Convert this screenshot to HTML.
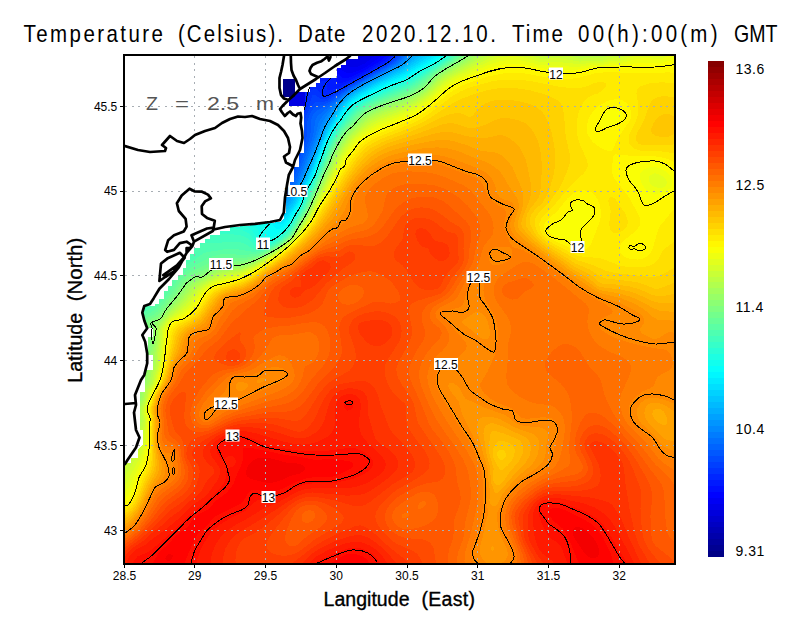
<!DOCTYPE html>
<html lang="en"><head><meta charset="utf-8"><title>Temperature (Celsius)</title>
<style>html,body{margin:0;padding:0;background:#fff}svg{display:block}text{font-family:"Liberation Sans",Arial,sans-serif;fill:#000}.g{stroke:#a8aeb4;stroke-width:1;stroke-dasharray:2 4.6;fill:none;shape-rendering:crispEdges}.c{stroke:#000;stroke-width:1;fill:none;stroke-linejoin:round;shape-rendering:crispEdges}.k{stroke:#000;stroke-width:2.7;fill:none;stroke-linejoin:round;stroke-linecap:round}.t{stroke:#000;stroke-width:1;fill:none;shape-rendering:crispEdges}.lb rect{fill:#fff}.lb text{font-size:12px}</style></head><body>
<svg width="800" height="618" viewBox="0 0 800 618">
<rect width="800" height="618" fill="#fff"/>
<defs><clipPath id="cp"><rect x="125" y="56" width="549" height="507"/></clipPath></defs>
<g clip-path="url(#cp)">
<g shape-rendering="crispEdges">
<path fill="#0000c3" d="M123 54H676V565H123z"/>
<path fill="#0000cf" d="M120 51l37.4 0l0.9 2.5l1.7 2.5l3.2 2.5l4.1 2.5l7.7 2.7l1.4 -0.2l-0.6 -2.5l-8.3 -3.9l-9.3 -6.1l521.8 0l0 517.5l-560 0l0 -515z"/>
<path fill="#0000dc" d="M120 51l33.6 0l1.4 3.3l4 4.2l13.5 10.2l15 7.7l17.5 6.9l2.5 -0.1l1.7 -2.2l3.3 -1.2l7.5 0l6.9 -1.3l0 -2.5l-4.4 -5l-0.6 -2.5l-0.3 -5l-5.3 -12.5l16.2 0.2l10 1.6l2.5 -0.6l1.2 -1.2l433.8 0l0 517.5l-560 0l0 -515z"/>
<path fill="#0000e8" d="M120 51l32.1 0l2.6 5l5.3 5.2l27.5 21.6l5 2.6l15 6.5l12.5 3.9l10 5.6l2.5 0.4l3.1 -0.8l1.7 -2.5l0.8 -5l1.9 -1.8l10 -3.6l0.9 -2.1l-1 -2.5l-3.8 -5l-1 -2.5l0.5 -2.5l3.3 -2.5l4.5 -2.5l9.1 -2.8l2 -2.2l0.5 -6l1.6 -1.5l8.1 -2.5l2.8 -2.5l56.2 0l3.4 2.5l10.2 5l5.2 1.2l2.5 0.1l5 -1.2l5 -2.5l3.1 -2.6l1.8 -2.5l310.1 0l0 517.5l-560 0l0 -515z"/>
<path fill="#0000f4" d="M120 51l31.1 0l1.4 3.3l3.4 4.2l11.6 9.7l7.5 7.3l7 5.5l5.5 5.7l5.9 4.3l6.1 7.5l8 5.5l8.9 9.5l6.1 5.1l5 5.2l7.5 5.1l10 9.8l10 4.9l2.6 -0.1l2.2 -2.5l0.1 -2.5l-3.1 -7.5l-6.5 -10l-0.7 -2.5l1.8 -2.5l3.1 -2.5l0.2 -5l1 -2.5l1.8 -2.5l5.4 -5l1.3 -2.5l2 -7.5l1.3 -2.3l10 -12.1l3.3 -5.6l3.5 -2.5l9.4 -5l8.8 -2.8l10 -1.7l12.5 0.5l7.5 2.1l15 7.2l5 0.9l5 -0.6l7.5 -3.3l12.4 -9.8l1.6 -2.5l301 0l0 517.5l-560 0l0 -515z"/>
<path fill="#0002ff" d="M120 51l30.2 0l2.3 4.9l2.5 2.9l5 4.7l6.5 5l6 6.2l7.5 6.4l5 5.5l7.5 6.5l5 6.1l9.1 6.8l9.4 10l6.5 5l4.7 5l6.8 5l8.5 8.6l2.5 2l12.5 7.5l5 1.5l2.5 -0.5l2.3 -1.6l4.7 -7.5l0.5 -2.5l-1.7 -7.5l1.9 -7.5l-1.3 -7.5l0.3 -2.5l2.7 -5l2.2 -10l1.1 -2.5l6.4 -7.5l3.4 -8.6l3.2 -3.9l4.3 -3.7l5.6 -3.8l4.4 -2.3l5 -1.7l10 -1.5l7.5 0.6l7.5 2.5l10 6.2l2.5 0.7l5 -0.4l5.2 -1.6l9.9 -5l14 -10l2.2 -2.5l1.3 -2.5l294.9 0l0 517.5l-560 0l0 -515z"/>
<path fill="#000eff" d="M120 51l29.3 0l2.3 5l3.4 3.8l10.3 8.7l7.2 7.6l7.5 6.3l5 5.8l6.2 5.3l6.3 7.4l7.5 5.5l10 10.6l5.5 4l4.6 5l7.4 5.9l10 10l15 10.5l5 2l5 0.9l2.5 -0.1l3.5 -1.7l5.4 -10l0.9 -2.5l0 -7.5l1.1 -10l1.1 -5l5.5 -13.8l5 -9l2.7 -9.7l1.3 -2.5l3.8 -5l4.7 -3.7l6.7 -3.8l5.8 -1.9l7.5 -0.7l5 0.7l5 2.4l7.5 6.4l2.5 0.4l2.5 -0.4l5.7 -1.9l10.4 -5l16.5 -10l6.2 -5l2 -2.5l1 -2.5l290.7 0l0 517.5l-560 0l0 -515z"/>
<path fill="#001aff" d="M120 51l28.4 0l2.3 5l4.3 4.8l10 8.6l7.5 7.9l7.2 6.2l5.3 6.1l5 4.3l6.1 7.1l8.9 7l9.8 10.5l5.2 3.9l22 21.1l10.5 8.4l5 3.3l7.5 2.7l7.5 1.7l2.5 0l2.7 -1.1l2.3 -3l2.5 -4.9l3.3 -9.6l0.9 -12.5l1.9 -7.5l3.1 -7.5l5.3 -7.5l1.2 -2.5l3.6 -15l3.1 -5l2.4 -2.5l5.2 -3.5l5 -2.3l5 -1.6l5 -0.4l2.5 0.6l3.5 2.2l4 6.8l2.5 0.5l7.5 -2.2l19.9 -10.1l16.6 -10l5.8 -5l1.8 -2.5l0.9 -2.5l287.5 0l0 517.5l-560 0l0 -515z"/>
<path fill="#0026ff" d="M120 51l27.6 0l2.1 5l4.3 5l11 9.6l7.5 7.9l5.8 5l16.3 17.5l9.1 7.5l9.2 10l6.2 5l20.4 20l10.5 9.3l7.5 5.4l2.5 1.1l17.5 4.4l2.5 -0.7l2.2 -2l4.7 -7.5l3.4 -10l1 -5l0.6 -10l2.9 -10l7.7 -12.4l3.5 -15.1l3.7 -5l5.3 -2.9l10 -2.6l1.5 0.5l0.1 7.5l0.9 1.3l2.5 0.7l6.6 -2l24.5 -12.5l22.1 -12.5l4.3 -2.9l5.1 -4.6l2.4 -5l285 0l0 517.5l-560 0l0 -515z"/>
<path fill="#0033ff" d="M120 51l26.2 0l2.3 5l4 4.7l11.5 10.3l7.2 7.5l6.3 5.6l15.6 16.9l8.5 7.5l10.9 12l35 32.8l7.5 5.9l5 2.7l20 6.1l2.5 -0.5l2.5 -2.6l4.1 -6.4l2.4 -5l3.7 -12.5l1.3 -12.5l1.6 -7.5l0.8 -2.5l6.8 -12.5l1.6 -5l1.5 -7.5l1.2 -2.1l2.5 -1.9l2.5 -0.5l2.5 0.8l5 5.4l2.5 0.8l2.5 -0.4l5 -2.1l53.3 -30l6.7 -5l2.4 -2.5l2.3 -5l282.8 0l0 517.5l-560 0l0 -515z"/>
<path fill="#003fff" d="M120 51l24.8 0l0.7 2.5l3.2 5l8.8 8.5l5.1 4l14.9 14.7l5 6l16.4 16.8l7.9 10l11.5 12.5l5.3 5l11.4 9l10 9l10 7.5l10 5.6l12.5 4.7l5 1.2l2.5 -1l2.5 -3l7.8 -15.5l3.8 -12.5l2.4 -20l8.1 -17.5l2.9 -8.5l2.5 -0.4l5 3.8l2.5 0.8l2.5 -0.1l5 -1.9l20 -12.4l38 -21.3l7 -5.4l3.3 -4.6l0.8 -2.5l280.9 0l0 517.5l-560 0l0 -515z"/>
<path fill="#004bff" d="M120 51l20.5 0l5.3 7.5l16.7 14.7l13.1 12.8l19.8 22.5l2.6 5l3.7 5l5.8 6.1l5.2 6.4l5.2 5l6.4 5l8.2 5.4l12.5 10.8l12.5 8l7.5 5.6l7.5 4.2l10 2.4l2.5 -0.3l2.2 -1.1l2.1 -2.5l8.3 -17.5l5.1 -15l1.1 -7.5l0.4 -10l1 -5l3.3 -7.5l4 -6.4l2.5 -2.3l2.5 -0.4l5 0.2l5 -1.3l20 -13.3l38.5 -21.5l10.5 -7.5l3.6 -5l0.9 -2.5l279 0l0 517.5l-560 0l0 -515z"/>
<path fill="#0058ff" d="M120 51l13.5 0l1.5 2.7l5 5.8l20 15.6l6.6 5.9l23.4 27.2l2.5 5.9l4.9 6.9l12.8 12.5l9.8 8.2l12.5 8.9l9.4 7.9l13.4 7.5l14.7 12.8l5 2l5 0.5l5 -0.2l2.5 -0.7l2.5 -1.7l2.5 -3.9l7.5 -17.4l5.1 -13.9l2.2 -10l0.2 -12.5l2.5 -7.3l3.4 -5.2l1.6 -1.5l2.5 -1.1l5 -0.9l5 -1.9l22.5 -16l42 -23.6l6.2 -5l3.7 -5l0.9 -2.5l277.2 0l0 517.5l-560 0l0 -515z"/>
<path fill="#0064ff" d="M120 51l7.8 0l7.6 10l19.5 17.5l9.5 10l8.9 7.5l13.3 17.5l4.1 7.5l4 5l42.1 32.5l14.1 7.5l3.5 2.5l15.6 14.3l5 2.2l5 0.2l5 -0.6l3.7 -1.1l3.5 -2.5l1.6 -2.5l8.7 -20.6l6.3 -16.9l1.7 -7.5l0.4 -12.5l1.5 -5l2.6 -4.1l2.5 -1.9l10 -4.5l14.9 -12l7.6 -5.3l43.9 -24.7l6 -5l3.8 -5l1 -2.5l275.3 0l0 517.5l-560 0l0 -515z"/>
<path fill="#0070ff" d="M406.7 51l273.3 0l0 517.5l-560 0l0 -514.3l5 3.2l12.5 10.7l18.4 17.9l8.4 7.5l6.6 5l1.8 2.5l2.3 5l6.7 7.5l1.6 2.5l1.2 5l1.2 2.5l2.4 2.5l14.4 11.6l22.1 15.9l24.6 15l20.8 17.7l2.5 1.5l5 1.1l5 -0.3l5 -1.5l5 -2.8l2.8 -3.2l16.1 -40l2 -7.5l1.8 -12.5l2.4 -5l29.8 -25l12.6 -7.7l27.5 -14.8l8.3 -5l5.9 -5l3.8 -5z"/>
<path fill="#007cff" d="M408.8 51l271.2 0l0 517.5l-560 0l0 -503.7l2.5 0.9l4.4 2.8l14.6 12.5l11 7.7l8.1 7.3l6.9 5.3l5.1 7.2l4.9 5.7l0.9 1.8l-0.8 2.5l-1.6 2.5l1.3 2.5l2.7 2.7l34.4 24.8l8.1 5l7.5 3.6l10.3 6.4l17.2 14l12.5 9.3l5 2.7l5 0.3l5 -1.2l5 -2.7l5 -3.7l2.5 -3.6l15.2 -37.6l2.5 -7.5l3.3 -12.5l2.4 -5l1.9 -2.5l14.2 -15l10.5 -9l13.8 -8.5l26.2 -13.9l10 -5.9l5.9 -5.2l4.1 -5z"/>
<path fill="#0089ff" d="M409.7 53.5l1.4 -2.5l268.9 0l0 517.5l-560 0l0 -482.9l2.5 1.4l5 4.2l5 2.4l2.5 -0.2l2.5 -2l2.5 0l2.5 1.2l12.5 9.4l7.7 4l4.8 3.9l1.8 3.6l-2.6 5l1.3 2.5l17 16.1l4.7 3.9l26 15l6.8 3.4l5 1.6l5 2.5l21.1 17.5l18.9 13.2l2.5 1.2l5 0.4l5 -1.4l2.5 -1.4l7.5 -6l3 -3.5l17 -41.2l6.5 -18.8l4.7 -7.5l10.1 -12.5l7.7 -7.5l6.5 -5l12.5 -7.5l32.9 -17.5l6.6 -4.7l5.1 -5.3zM120 73.5l3.7 2.5l3.8 5.1l-2.5 0.7l-5 -0.8l0 -5z"/>
<path fill="#0095ff" d="M412.1 53.5l1.6 -2.5l266.3 0l0 517.5l-560 0l0 -461.9l15 6.6l5 0.2l2.5 0.8l27.5 13.6l5 4.1l8.2 9.1l9.3 7.3l21.1 10.2l16.4 7l10.9 10.5l4.1 3.3l27.5 18.4l2.5 1.1l5 0.4l5 -1.4l2.5 -1.6l10 -9.7l2 -3l10.5 -24.6l13.8 -35.4l4.8 -7.5l9.3 -12.5l7.6 -7.5l6.6 -5l12.7 -7.5l33.3 -17.5l4.4 -3.1l7.5 -7.1z"/>
<path fill="#00a1ff" d="M414.9 53.5l1.7 -2.5l263.4 0l0 517.5l-560 0l0 -456.8l15 7.4l15 4.1l17.5 8.3l6.6 4.5l4.6 5l8.7 7.5l5.1 3l25.4 12l4.2 2.5l20.4 15.7l21.8 14.3l10.7 5.8l2.5 0.6l5 -0.4l5 -2.5l2.5 -2.2l10 -12.4l12.5 -28.6l11.9 -30.3l9.4 -15l5.6 -7.5l7.5 -7.5l6.9 -5l13 -7.5l33.2 -17.3l3.9 -2.7l8.6 -7.7z"/>
<path fill="#00aeff" d="M419.9 51l260.1 0l0 517.5l-560 0l0 -442.3l2 -0.2l0.5 -1l0.2 -1.5l-1.2 -2.5l1 -2.3l2.5 0.4l10 5.9l10 4.5l2.5 0.9l7.5 0.3l7.5 3.4l7.5 4.4l17.2 12.5l14.5 7.5l12.9 7.5l15.2 12.5l10.2 5.8l9.2 6.7l13.3 7.7l10 4.9l5 1.7l5 -0.2l5 -2.4l2.5 -2.3l10.6 -14.4l9.4 -20.8l15.9 -39.2l11.1 -17.5l3.8 -5l4.8 -5l6.9 -5.5l11.6 -7l35.9 -18.3l6.2 -4.2l11.8 -10z"/>
<path fill="#00baff" d="M421.5 53.5l1.9 -2.5l256.6 0l0 517.5l-560 0l0 -438.6l10 3.6l12.5 1.9l12.5 4.1l10 2.4l7.5 3.1l5 2.4l26.5 16.1l11 7.7l15 11.9l17.5 11.3l15 7.6l12.5 5.4l5 1l2.5 -0.2l5 -2.5l2.5 -2.3l11.7 -17.4l8.3 -17.9l16 -39.6l10.7 -17.5l5.6 -7.5l7.7 -7.5l7.5 -5l13.6 -7.5l31.4 -15.7l17.5 -13.1z"/>
<path fill="#00c6ff" d="M427 51l253 0l0 517.5l-560 0l0 -436.2l15 5.8l12.5 2.6l7.5 3.1l7.5 1.2l7.5 2.2l7.5 3.1l10 5.7l27.5 19.7l16.8 12.8l7.8 5l12.9 7.2l12.2 5.3l12.8 5l5 0.2l2.5 -0.9l2.5 -1.7l4.7 -5.1l10.3 -16.9l7.5 -15.8l17.2 -42.3l10.9 -17.5l5.6 -7.5l6.3 -6.1l5.5 -3.9l13.2 -7.5l33.8 -16.5l22.6 -16z"/>
<path fill="#00d2ff" d="M428.9 53.5l1.8 -2.5l249.3 0l0 517.5l-560 0l0 -434.1l17.5 9l10 1.9l5 2l10 1.2l9.2 2.5l5.8 2.3l8.1 5.2l24.4 18.8l25 17l17.5 9.7l25 9.8l5 0.5l2.5 -0.9l2.5 -1.9l5 -5.7l2.5 -3.8l10 -18.2l4.9 -10.3l17.6 -43.3l11.9 -19.2l5.8 -7.5l5.2 -5l7.2 -5l18.6 -10l26.5 -12.5l24.8 -16.4z"/>
<path fill="#00dfff" d="M434.3 51l245.7 0l0 517.5l-560 0l0 -431.9l3.8 1.9l18.7 12.6l5 2.1l7.5 1.5l15 6.5l2.5 -0.3l2.5 -1.6l2.5 0.3l2.5 1.1l16.7 12.8l14.4 10l36.4 21.2l7.5 3.5l15 5.3l7.5 3.3l2.5 0.6l2.5 -0.1l2.5 -1l2.5 -2l5 -6.1l3.1 -4.7l14.4 -27.8l13.7 -34.7l4.5 -10l12.5 -20l6 -7.5l5.8 -5.2l7.5 -4.9l19.2 -9.9l25.8 -12l22.5 -14.1l5.1 -3.9z"/>
<path fill="#00ebff" d="M436.1 53.5l1.6 -2.5l242.3 0l0 517.5l-560 0l0 -429.6l24.5 17.1l10.5 4.6l17.5 9.1l12.5 3.5l5 2.3l27.5 16.8l30 15.8l7.5 3.2l15 4.8l7.5 3.8l2.5 0.8l2.5 -0.3l2.5 -1.2l2.5 -2.2l5 -6.4l4.5 -7.1l15 -30l11.6 -30l5.6 -12.5l12.8 -20l5.5 -6.7l5 -4.5l9.9 -6.3l19.9 -10l22.7 -10.2l24.6 -14.8l5.4 -4.1z"/>
<path fill="#00f7ff" d="M439.3 53.5l1.5 -2.5l239.2 0l0 517.5l-560 0l0 -426.2l7.5 5.5l5.5 3.2l7 5.7l15 8.3l7 6l8 3.9l5.3 3.6l7.2 3.1l7.5 1l2.5 0.8l32.3 17.6l27.7 12.5l17.5 5.1l7.5 5.2l2.5 0.6l2.5 -0.7l5 -4l10 -14.7l15 -30.4l12 -31.1l4.5 -10l5.9 -10l8.5 -12.5l4.1 -5.1l5 -4.6l8.1 -5.3l19.8 -10l24.6 -10.8l25 -14.7l7.5 -5.3z"/>
<path fill="#05fffa" d="M442.3 53.5l1.4 -2.5l236.3 0l0 517.5l-560 0l0 -390l5 0l2.5 0.8l7.5 4l2.5 -1.3l0.4 -1l0.2 -2.5l-2.1 -7.5l0.6 -2.5l8.4 -1.5l5 0.8l2.5 1l6.1 4.7l8.9 3.7l7.5 5.1l7.5 4.2l12.5 4.7l27.5 13.4l30 12.5l16.2 3.9l3.5 2.5l2.8 4.8l2.5 0.8l2.5 -0.7l5 -3.5l2.5 -2.6l10.7 -16.3l5.7 -12.5l8.9 -17.5l12.2 -31.4l5 -11.1l5 -8.4l12.5 -17.4l5 -4.8l10 -6.4l22.5 -11l20 -8.5l15 -9.1l12.6 -6.9l7.4 -5.2z"/>
<path fill="#11ffee" d="M444.9 53.5l1.2 -2.5l233.9 0l0 517.5l-560 0l0 -351.7l15 -4.6l2.5 -2.6l2.5 -5l2.5 0.1l10 3.6l2.5 0l2.5 -1.3l1.3 -3.5l0.5 -7.5l5 -5l2.4 -5l0.8 -0.7l2.5 0l15 7l10 3.7l17.5 8.7l12.5 5.5l30 11.8l10 2l3.2 2l0.1 2.5l-1.7 5l0.5 2.5l2.9 0.4l5 -1.6l7.5 -4.9l5 -5.1l10 -15.4l16.3 -33.4l11.5 -30l4.7 -10.5l5.6 -9.5l9.4 -13.4l5 -5.8l5 -4.2l10 -5.9l22.5 -10.7l20 -8.4l12.5 -7.8l15 -8.4l7.6 -5.4z"/>
<path fill="#1dffe2" d="M447.2 53.5l1.1 -2.5l231.7 0l0 517.5l-560 0l0 -313.1l5 -1.6l2.6 -2.8l7.4 -3.2l2.4 -1.8l3.2 -7.5l1.9 -2.8l7.5 -3.5l5 -3.6l5.7 -5.1l7.7 -2.5l2.4 -2.5l4.2 -9.3l2.5 -3.2l2.5 -1.2l15 -2l2.5 0.1l5 1.2l17.5 8.1l25 9.6l8.4 4.2l3.5 2.5l1.7 2.5l1.7 7.5l2.2 2.5l2.5 0.4l2.5 -0.3l7.5 -3.3l7.5 -5.5l5 -5.2l5 -7.2l6.7 -11.4l8 -17.5l7.5 -15l11.6 -30l4.5 -10l6.7 -11l12.5 -16.4l6 -5.1l9 -5.3l22.5 -10.5l20 -8.3l13.5 -8.4l14 -7.9l10 -7.1z"/>
<path fill="#29ffd6" d="M449.2 53.5l1.2 -2.5l229.6 0l0 517.5l-560 0l0 -280l17.5 -13.2l6.9 -11.8l8.1 -9.2l5 -7.7l7.5 -4.9l9.6 -8.2l5.4 -3.7l2.5 -3.5l2.5 -5.4l2.5 -1.7l7.5 -2.1l5 -3l2.5 -0.7l5 0.7l15 4.2l22.5 7.7l4.3 2.5l3.2 2.7l2.5 3.8l2.8 6l2.8 2.5l1.9 0.5l5 -0.7l5.4 -2.3l4.6 -2.8l6 -4.7l4 -4.2l5 -7.3l7.5 -12.7l15.7 -33.3l11.6 -30l4.6 -10l5.6 -9.2l12.5 -16.3l5 -4.7l10 -6l20 -9.4l20 -7.9l5 -2.6l26.8 -16.4l7.5 -5l3.2 -2.9z"/>
<path fill="#36ffc9" d="M452.5 51l227.5 0l0 517.5l-560 0l0 -265.2l5 -2.8l8.4 -7l6.6 -3.6l5 -3.9l2.5 -2.6l12.8 -19.9l6.7 -7.5l5.6 -5l7.4 -8.9l12.5 -11.2l10 -5.2l5 -1.2l5 0l15 2.1l15 3.5l5 2.5l2.5 1.9l2.5 3l3.7 6l3.8 2.3l2.5 0.3l5 -1.1l7.5 -3.6l4.4 -2.9l8.3 -7.5l4.8 -6.9l7.5 -12.8l16.6 -35.3l10.9 -28.1l5 -10.9l5.2 -8.5l13.7 -17.5l6.1 -5.2l10 -5.7l17.5 -8l20 -7.8l5 -2.5l33 -20.8l4.5 -3.4l3.7 -4.1z"/>
<path fill="#42ffbd" d="M454.5 51l225.5 0l0 517.5l-560 0l0 -252.6l20 -16.1l10 -6.7l6.1 -7.1l11.4 -17.5l23 -25l4.5 -3.9l5 -2.9l5 -2l5 -0.8l17.5 -0.1l12.5 1.4l7.5 2.7l2.5 2.3l4.6 5.8l2.9 1.4l2.5 0.4l5 -0.5l3.6 -1.3l6.4 -3.2l6.3 -4.3l5.7 -5l3 -3.7l12.6 -21.3l14.9 -32.5l10.8 -27.5l6 -12.5l5.7 -8.8l12.5 -15.4l7.2 -5.8l7.8 -4.4l20 -8.9l17.5 -6.6l7.5 -3.9l32.6 -21.2l3.3 -2.5l4.8 -5z"/>
<path fill="#4effb1" d="M456.7 51l223.3 0l0 517.5l-560 0l0 -197.5l1 -7.5l2.4 -7.5l0.9 -5l-1.8 -12.5l0.4 -2.5l1.9 -5l1.7 -7.5l2.4 -5l6.1 -6.3l12.6 -8.7l4.9 -4l10 -11.7l7.2 -11.8l4 -5l8.8 -9.4l12.5 -12l7.5 -6l5 -1.1l7.5 0.9l12.5 -1.7l7.5 -0.1l5 0.7l5 1.5l7.5 4.7l2.5 0.8l5 0.3l5 -0.9l5 -2l5.9 -3.2l7.1 -5l4.5 -4l2.9 -3.5l13.2 -22.5l14.8 -32.5l11.6 -29l5 -10.1l5.5 -8.4l12 -14.6l6 -5.4l9 -5.3l17.5 -7.8l20 -7.6l7.5 -3.6l15.3 -10.7l19.4 -12.5l8.1 -7.5z"/>
<path fill="#5bffa4" d="M459.1 51l220.9 0l0 517.5l-560 0l0 -173.7l3 -3.8l3.3 -12.5l4.6 -25l-0.8 -12.5l0.4 -5l1.6 -10l2.2 -5l5.7 -6.4l10 -6.1l5 -4.3l12.5 -15.5l6.2 -10.2l6.3 -7.2l7.5 -6.8l15 -10.6l5 -2.1l7.5 -0.6l12.5 -2.5l7.5 0.1l17.5 2.9l7.5 -0.4l5 -1.3l7.5 -3.4l5.2 -3.1l6.8 -5l5.2 -5l2.8 -4l12.2 -21l13.6 -30l11.7 -29l5 -10.3l7 -10.7l10.6 -12.5l7.4 -6.8l7.5 -4.4l15 -6.7l25 -9.5l7.5 -4l15.1 -11.1l19.1 -12.5l8.3 -7.5z"/>
<path fill="#67ff98" d="M461.7 51l218.3 0l0 517.5l-560 0l0 -164.1l5 -6.9l2.2 -4l4 -15l5.2 -25l0.6 -25l1.5 -5l1.3 -2.5l1.9 -2.5l2.9 -2.5l7.9 -4.5l3.7 -3l13.9 -17.5l8.3 -12.5l6.6 -6.4l7.5 -5.4l15 -8.2l5 -2l7.5 -2l7.5 -0.6l12.5 0.9l7.5 -0.1l7.5 -0.8l7.5 -1.8l5 -2l7.5 -3.9l10.9 -7.7l4.1 -4.1l2.5 -3.3l12.5 -21.3l14.2 -31.3l12.4 -30l5.1 -10l5.8 -8.6l12.5 -14.2l5.1 -4.7l9.9 -5.8l15 -6.4l22.5 -8.3l7.5 -3.9l5 -3.3l12.2 -9.8l19.1 -12.5l8.7 -7.5z"/>
<path fill="#73ff8c" d="M464.6 51l215.4 0l0 517.5l-560 0l0 -152.3l2.5 -2.9l1.3 -2.3l6.6 -15l4.9 -17.5l2.6 -12.5l2.7 -10l1.4 -12.5l-0.4 -15l1.3 -5l1.4 -2.5l3.2 -3.1l7.5 -4.2l2.5 -2.1l15 -19.1l7.9 -11.5l7.1 -6.6l5 -3.3l10 -4.7l10 -5.7l7.5 -2.6l5 -0.5l10 0.9l7.5 -0.2l10 -1.8l7.5 -2.2l12.8 -5.8l7.2 -4.5l7.1 -5.5l2.9 -2.8l5 -7l11.7 -20.2l13.5 -30l12.3 -29.3l5 -9.7l7.5 -10.6l11.9 -12.9l5.8 -5l9.8 -5.3l12.5 -5.2l22.5 -8.2l7.6 -3.8l7.4 -5l11.9 -10l19.1 -12.5l9.3 -7.5z"/>
<path fill="#80ff80" d="M465.9 53.5l1.9 -2.5l212.2 0l0 517.5l-560 0l0 -144l3.8 -3.5l3.7 -7.5l6.4 -17.5l5.7 -20l4.4 -17.5l2.4 -12.5l0.5 -5l-1 -12.5l0.2 -2.5l1.4 -3.6l2.5 -2.5l6.7 -3.9l2.7 -2.5l15.5 -20l7.6 -10.7l5 -4.8l5 -3.4l10 -3.9l12.5 -7.6l5 -1.9l5 -0.4l7.5 0.8l7.5 -0.2l7.5 -1.6l10 -3.2l7.5 -3.1l9.4 -5l13.1 -9.4l3.2 -3.1l3.7 -5l12 -20l14.8 -32.5l11.3 -26.6l5.6 -10.9l6.9 -10l12.5 -13.3l5 -4.6l10 -5.7l10 -4.3l25 -8.9l10 -5.2l5 -3.3l12.5 -11.1l20.9 -13.6l9.1 -6.7z"/>
<path fill="#8cff73" d="M469.3 53.5l1.9 -2.5l208.8 0l0 517.5l-560 0l0 -136l2.5 -1.8l2.5 -3l4.9 -9.2l6.4 -20l2.3 -10l3.7 -10l2.2 -10l2.3 -7.5l3.8 -17.5l0 -17.5l1 -2.5l8.4 -7.3l25 -32.3l7.5 -6.1l10 -3.8l12.5 -7.6l5 -2.3l5 -0.4l10 0.5l5 -0.6l7.5 -1.9l7.5 -2.6l10 -4.5l7.5 -4.1l7.5 -4.7l7.5 -5.8l6.1 -6.5l11.4 -18.2l12.8 -26.8l17.2 -39.1l6.1 -10.9l6.4 -8.2l12.5 -12.8l5 -4.2l14.7 -7.3l27.8 -9.9l7.5 -3.7l7.5 -4.6l9.8 -9.3l6.5 -5l28.7 -18.5z"/>
<path fill="#98ff67" d="M474.9 51l205.1 0l0 517.5l-560 0l0 -128.8l2.5 -1.6l5 -5.9l3.6 -6.2l1.9 -5l2.5 -12.5l3.6 -10l2.1 -10l4.1 -10l1.5 -7.5l3.1 -10l1.1 -7.5l2.3 -10l1 -15l1.6 -5l21 -25l9.6 -12.5l6 -5.1l11.3 -4.9l11.2 -6.6l5 -2.4l5 -0.7l7.5 0.1l5 -0.4l7.5 -1.8l10 -3.7l10 -4.8l10 -5.8l7.5 -5.1l7.8 -6.3l7.5 -10l10.5 -17.5l26.7 -58.9l5 -9.2l7.5 -10.5l15 -14.9l5 -3.7l10 -5l30 -10.8l10 -5l7.5 -5.1l12.6 -11.9l7.4 -5l21 -12.5l7 -5z"/>
<path fill="#a4ff5b" d="M476.8 53.5l2.1 -2.5l201.1 0l0 517.5l-560 0l0 -121.5l2.5 -1.7l5 -5.8l5 -7.7l2.6 -5.8l1.4 -5l1.2 -12.5l3.7 -10l2.1 -10l3.9 -7.5l2 -10l2.8 -7.5l1 -10l2.5 -12.5l0.7 -12.5l2 -5l9.1 -11.5l12.4 -13.5l7.8 -10l2.4 -2.5l4.9 -3.7l7.5 -3.4l12.5 -7.1l5 -2.2l5 -1l7.5 -0.2l7.5 -1.2l5 -1.4l10 -4l12.5 -6.5l10 -6.1l13.7 -10.7l5.8 -7.5l10.9 -17.5l10.9 -22.5l17 -37.5l6.7 -12.1l7.5 -9.5l14.1 -13.4l5.9 -4l7.5 -3.7l30 -10.9l7.5 -3.5l10 -6.4l10 -9.8l5.1 -4.2l7.6 -5l22.1 -12.5l5.2 -3.6z"/>
<path fill="#b1ff4e" d="M481.1 53.5l2.1 -2.5l196.8 0l0 517.5l-560 0l0 -115.2l2.5 -1.3l5.6 -6l6.9 -11.3l2.5 -5.9l1.8 -7.8l-0.3 -7.5l0.6 -5l3.8 -10l1.3 -7.5l5.1 -10l1.3 -7.5l3.4 -10l0.7 -10l2.1 -12.5l0.4 -10l1.2 -5l1.5 -2.5l7.1 -9.1l13.2 -13.4l10.3 -12.5l6.4 -5l15.1 -8.2l7.5 -3.4l20 -3.2l7.5 -2.4l7.5 -3.3l12.5 -6.7l10 -6.3l14.6 -11.5l5.7 -7.5l11.1 -17.5l12.2 -25l16.1 -35l5.3 -9.3l7.5 -10l15 -14l5 -3.5l7.5 -3.8l30 -11l10 -4.9l8.8 -6l10.2 -10l6.2 -5l8 -5l19.3 -10.3l10 -6.4z"/>
<path fill="#bdff42" d="M486 53.5l2.5 -2.5l84.7 0l4.3 2.8l5 0.7l7.5 -0.8l10 0l5.8 -2.7l74.2 0l0 517.5l-560 0l0 -105.8l2.5 -2.1l10 -13.2l5 -9.9l1.4 -4l2.8 -12.5l-1 -7.5l0.4 -5l3.9 -9.9l1.5 -7.6l4.4 -7.5l0.9 -2.5l1.3 -7.5l2.7 -7.5l0.6 -2.5l0.4 -10l2 -12.5l0.2 -10l1 -3.8l2.1 -3.7l7.9 -9.7l13.7 -12.8l8.8 -10.6l7.5 -6.1l12.5 -7.1l5 -2.3l7.5 -2.1l15 -2.6l7.5 -2.6l7.5 -3.4l10 -5.5l12.5 -7.9l15 -11.8l6.2 -8l9.8 -15l12.6 -25l16.4 -35l5 -9l8 -11l14.5 -13.3l5 -3.6l7.5 -4l30 -11.1l10 -4.9l10 -7l11.5 -11.1l6.7 -5l8.5 -5l19.6 -10l11.2 -6.9z"/>
<path fill="#c9ff36" d="M492.2 53.5l3.3 -2.5l38.4 0l3.1 2.5l3 1.2l5 0l12.5 -1.8l7.5 1.5l12.7 4.1l4.8 0.1l7.5 -0.9l10 0.8l10 -3.1l10 -1.2l1.4 -0.7l2.3 -2.5l56.3 0l0 517.5l-560 0l0 -96.5l2.5 -1.9l2.5 -3.2l10 -15.3l5 -10.6l3.6 -20l-1.3 -7.5l0.3 -5l2.9 -7.5l2.7 -10l4.4 -7.5l2.3 -10l2.6 -7.5l0.8 -12.5l1.8 -12.5l0.2 -10l0.6 -2.5l2.8 -5l6.3 -7.6l11.9 -9.9l13 -15l7.6 -6.2l7.5 -4.5l7.5 -3.5l7.5 -2.2l15 -3l12.5 -4.9l12.5 -7l12.5 -8l15 -11.9l7.1 -8.8l9.8 -15l14.1 -27.5l16.5 -34.1l5 -8.4l7.5 -9.7l12.5 -11.1l7.5 -5.1l7.5 -3.8l25 -9.2l10 -4.5l12.5 -8.3l12.5 -11.8l7.5 -5.6l42.5 -22.2z"/>
<path fill="#d6ff29" d="M501.7 53.5l8.3 -1.9l7.5 0l12.5 3.5l10 3.9l17.5 -1l22.5 3.6l10 -0.9l10 0.6l10 -2.7l10 -0.5l5.2 -2.1l3.7 -2.5l2.5 -2.5l48.6 0l0 517.5l-560 0l0 -87.6l2.5 -1.5l2.5 -3l12.5 -20.7l5 -12.5l2.7 -22.2l-1.6 -7.5l0.2 -5l2.8 -7.5l2 -7.5l5.3 -10l4.9 -17.5l2.7 -25l0.2 -10l0.8 -2.9l2.8 -4.6l4.7 -5.8l15.1 -11.7l12.7 -15l7.2 -6l7.5 -4.3l5 -2.1l22.5 -5.6l12.5 -5.1l10 -5.7l12.5 -8l17.5 -13.5l6.1 -7.2l10.4 -15l14.6 -27.5l17.3 -35l4.1 -7l7.8 -10.5l9.7 -8.7l7.5 -5.6l7.5 -4.2l30 -11.6l10 -5l10.7 -7.4l14.3 -13.2l10.1 -6.8l34.9 -16.8l12.5 -5.2z"/>
<path fill="#e2ff1d" d="M641 53.5l6.5 -1l10 1.4l2.5 -0.4l2.6 -2.5l17.4 0l0 517.5l-560 0l0 -79.6l4.2 -2.9l3.3 -4.3l5.2 -10.7l7.3 -12.9l2.5 -7.1l2.6 -10l0.2 -10l1.1 -10l-1.7 -10l0.3 -2.5l4.8 -15l5.4 -10l4.9 -17.5l2.7 -25l0.3 -10l2.1 -5l4.8 -6.4l2.5 -2.2l7.5 -4.6l5.7 -4.3l4.9 -5l9.8 -12.5l7.1 -5.8l5 -2.9l5 -2l22.5 -5.9l12.5 -5.3l20 -12.3l17.8 -13.3l7.2 -7.5l10.9 -15l17.8 -32.5l16.5 -32.5l7.3 -11.1l5.3 -6.4l9.7 -8.1l10 -6.5l10 -4.5l25 -9.7l10 -5.5l10 -7.4l14.7 -13.3l7.8 -5.1l9.8 -4.9l27.7 -12.3l7.5 -2.8l7.5 -1.7l7.5 -0.5l7.5 0.5l7.5 1.5l12.5 3.9l17.5 -0.1l22.5 2.2l10 -1.1l10 0.3l10 -2.3l10 -0.4l5 -1.3l10 -4.2l5 -1.5z"/>
<path fill="#eeff11" d="M671.5 53.5l2.6 -2.5l5.9 0l0 517.5l-560 0l0 -72.7l2.5 -1.3l2.5 -2.3l4.8 -6.2l5.3 -12.5l5.4 -10l2.8 -7.5l3.2 -15l0.2 -10l0.9 -10l-1.5 -7.5l-0.1 -5l4.9 -15l5.3 -10l4.9 -17.5l3 -25l0.6 -10l2.1 -5l3.2 -4.4l2.5 -2.3l10.3 -5.8l6.2 -5l3.5 -3.8l10.4 -13.7l6.1 -5l8.5 -4.1l22.5 -6l12.5 -5.6l12.5 -7.5l12.5 -8.5l16.6 -13.3l6.3 -7.5l10.7 -15l15.2 -27.5l18.3 -35l7.9 -11.2l5.5 -6.3l9.5 -7.2l10 -5.9l32.5 -13.2l7.5 -4l12.5 -8.9l15 -13.4l10 -6.5l32.5 -14l12.5 -4.1l7.5 -1.2l10 0l7.5 1l12.5 3.4l5 0.8l35 1.6l12.5 -1.5l10 -0.2l10 -1.8l12.5 -0.8l12.5 -3.2l7.5 -1.2l5 0l12.5 1.2l3.2 -0.9l6.8 -4.1zM655 173.4l-2.5 0.4l-2.9 2.2l-0.8 2.5l0.3 2.5l1.1 2.5l2.5 2.5l4.8 1.8l5 -0.1l2.5 -1.1l2 -3.1l-0.3 -2.5l-1.4 -2.5l-2.8 -2.4l-2.5 -1.4l-4.5 -1.2z"/>
<path fill="#faff05" d="M675.3 58.5l4.7 -1l0 511l-560 0l0 -66.7l2.5 -0.7l2.5 -1.6l6 -8.5l1.5 -2.8l4.4 -12.2l5.6 -10.6l2.3 -6.9l3.1 -17.5l0 -10l0.8 -10l-1.8 -10l0.2 -2.5l4.9 -15l6.2 -12.5l3.4 -12.5l1.4 -7.5l3.4 -30l2.2 -5l4.2 -5l9.8 -5l7.4 -5.5l4.3 -4.5l8.8 -12.5l2.2 -2.5l4.7 -3.8l7.5 -3.7l22.5 -6.2l12.5 -5.7l12.5 -7.8l12.5 -8.6l10 -7.6l7.5 -6.6l6.5 -7.5l9.1 -12.5l18.6 -32.5l9 -17.5l8.6 -15l8.2 -11.2l5 -5.4l7.5 -5.5l10 -5.6l32.5 -13.4l7.5 -3.9l12.5 -8.9l17.5 -15.2l9.6 -5.9l30.4 -12.3l10 -3.1l10 -1.7l10 0l7.5 0.7l12.5 2.9l7.5 1.1l15 1.1l15 0.2l17.5 -2.4l10 -0.6l7.5 -1.2l12.5 -0.6l17.5 -2.4l20 0.4l5 -1.1l10 -3.4zM647.5 167.8l-2.5 1.1l-2.8 2.1l-1.7 2.5l-0.5 2.5l0.1 2.5l1.6 5l3.1 5l2.3 2.5l2.9 1.8l2.5 0.8l5 0l7.5 -1.8l5 -3.3l1.7 -2.5l0.8 -2.5l0 -2.5l-0.6 -2.5l-1.5 -2.5l-2.2 -2.5l-3.2 -2.6l-5 -2.6l-5 -1.2l-5 0.1z"/>
<path fill="#fff700" d="M666.7 66l13.3 -1.5l0 114l-6.1 -7.5l-6.3 -5l-5.1 -2.7l-7.5 -1.7l-12.5 0.8l-5.4 1.1l-4.6 1.8l-3.8 3.2l-1 2.5l0 2.5l0.5 2.5l2.3 5l12 19.3l2.5 2.5l2.5 1.1l2.5 0l5 -1.5l15 -7.2l5 -4.2l4.2 -5l0.8 -1.6l0 384.1l-560 0l0 -62.5l2.5 -0.5l4.1 -2l3.4 -4.1l4.3 -8.4l4.3 -12.5l7 -15l1.9 -9.3l1.5 -13.2l0.7 -20l-1.8 -10l0.2 -2.5l3.8 -12.5l6.3 -12.5l2.5 -7.5l3.1 -12.5l4 -30l2.2 -6.5l2.5 -3.5l2.5 -1.9l10 -4.7l7.5 -5.9l4.4 -5l8.5 -12.5l5.5 -5l6.6 -3.3l22.5 -6.4l12.5 -6l12.5 -7.8l15 -10.6l15 -12.3l9.5 -11.1l7.4 -10l8.1 -14.7l10.9 -17.8l9.1 -17.3l3.6 -5.2l3.9 -7.5l7.5 -10.3l5 -5.8l7.5 -5.7l10 -5.5l32.5 -13.4l7.5 -3.8l12.5 -8.8l17.5 -15l10 -6.3l12.8 -5.4l22.2 -7.7l12.5 -2.5l15 -0.2l5.1 0.4l22.4 4.1l17.5 1.3l12.5 -0.7l15 -3.1l15 -1.6l30 -1.2l20 -0.1l7.5 -0.9zM575 202.8l-2.5 2.8l-2.9 5.4l-4.8 5l-4.8 4.3l-8.7 5.7l-1.9 2.5l-0.1 2.5l1.3 2.5l3.7 2.5l10.7 3.4l10 4.2l2.5 -0.6l1.9 -2l3.1 -11.8l7.9 -10.7l2.1 -5l0 -2.5l-0.8 -2.5l-1.9 -2.5l-3.5 -2.5l-3.8 -1.8l-5 -0.1zM607.5 110.2l-3.8 3.3l-2.7 5l-1 5l0.2 2.5l2.3 1.7l5 -0.4l7.5 -2.6l5 -3.3l2.5 -2.9l0.8 -2.5l-0.4 -2.5l-2.2 -2.5l-3.2 -1.7l-2.5 -0.7l-5 0.5z"/>
<path fill="#ffeb00" d="M503.1 73.5l9.4 -0.5l12.5 0.5l27.5 4.8l12.5 1l12.5 -1.2l17.5 -4.8l10 -1l12.5 0.1l22.5 1.1l27.5 -1.1l12.5 0.6l0 91.9l-12.5 -5.9l-7.5 -2.1l-7.5 -0.7l-17.5 -0.1l-20 -1.8l-1.6 1.7l-1.5 12.5l0.4 5l1.9 5l14 17.5l11 20l1.4 5l-1.1 5l-1.7 2.5l-5.1 5l-9.4 7.5l-2.1 2.5l-1.3 2.5l-0.5 2.5l0.3 2.5l1.3 2.5l4 3.5l5 1.9l7.5 0.6l5 -0.8l5.3 -2.7l2.4 -2.5l2.6 -5l4.7 -16.9l2.6 -5.6l12.2 -15l5.2 -4.9l2.5 -1.4l0 363.8l-560 0l0 -59.2l3.2 -0.8l4.3 -2.2l2.5 -2.4l2 -2.9l3.7 -7.5l5.3 -15l4.9 -10l1.6 -4.4l2.3 -18.1l0.8 -22.5l-0.2 -5l-1.4 -7.5l0.1 -2.5l3.8 -12.5l6.3 -12.5l1.9 -5l3.8 -15l4.8 -30l1.7 -5l1.6 -2.5l2.7 -2.5l11.8 -6l7.5 -6.1l2.5 -2.9l10 -14.6l5 -4.5l7.3 -3.4l20.2 -5.8l12.5 -6l25 -16.9l17.5 -14.1l8.8 -9.7l9.4 -12.5l36.8 -62.5l9.8 -12.5l5.2 -4.7l5 -3.2l10 -5l27.5 -11.1l10 -4.7l12.5 -8.5l20 -16.4l10 -5.9l7.5 -3.2l20 -6.6l15 -3.1zM580 190.8l-5 1.8l-2.5 1.5l-5 4.4l-10 12.4l-11.2 10.1l-1.7 2.5l-1 5l1.5 5l1.9 2.5l3.1 2.5l22.4 10.8l5 1.5l2.5 0.1l2.5 -0.3l4.6 -2.1l2.6 -2.5l1.6 -2.5l7.7 -20l1.4 -5l0.7 -5l-1.1 -7.9l-2.5 -6.3l-2.5 -4.1l-2.5 -2.4l-2.5 -1.4l-2.5 -0.8l-5 -0.2zM607.5 100.9l-9 5.1l-6 6l-2.6 4l-2.1 5l-1.1 7.5l0.8 5l1 2.5l4 5.7l5 4.1l5 3.1l7.5 2.6l2.5 -1.1l4 -9.4l2.7 -5l10.4 -15l1.1 -2.5l0.6 -5l-1.3 -5.7l-2.5 -3.8l-2.5 -2.2l-2.5 -1.5l-5 -1.3l-7.5 1z"/>
<path fill="#ffdf00" d="M493.7 81l11.3 -1.5l15 0.2l12.5 1.6l27.5 5.6l15 1.4l10 -1.1l8 -3.7l7 -1.9l2.5 0.2l3.5 1.7l0.1 2.5l-1.7 2.5l-2.7 2.5l-4.1 2.5l-5.1 1.5l-5 2.7l-4.9 5.8l-2.6 5l-1.7 5l-1.2 7.5l-0.1 12.5l1 5l2 6l7.3 16.5l0.6 5l-0.8 2.5l-3.5 5l-13.6 12.9l-16.6 19.6l-10.2 10l-1.9 2.5l-1.9 5l0.2 5l2 5l4.1 5l6.8 4.6l20 10.5l5 2l5 1.1l17.5 1.3l20 7.5l7.5 1.5l7.5 0.4l12.5 -1l6.6 -2.9l4.7 -5l3.7 -7.5l2.4 -2.5l15.1 -11l0 331l-560 0l0 -56.3l2.5 -0.6l5 -2.5l2.5 -2.1l2.8 -3.5l4.7 -9.2l4.7 -13.3l6.7 -15l1.6 -12.5l1.1 -30l-1.5 -15l3.7 -12.5l6.4 -12.5l2.7 -7.5l3.7 -15l5.1 -27.5l2.2 -5l3.6 -3.5l10 -5.2l8 -6.3l4.4 -5l8.3 -12.5l5 -5l6.8 -3.4l20 -5.9l12.5 -6.1l27.5 -18.9l16 -13.2l7 -7.5l9.9 -12.5l9.6 -16.2l10.7 -16.3l9.3 -16.4l6 -8.6l4 -6.9l7.5 -9.4l5 -5l5.5 -3.7l9.5 -4.8l30 -11.9l10 -4.7l10 -6.5l22.5 -17.1l7.5 -4.3l7.4 -3.2l7.6 -2.5l17.5 -4.8zM649 83.5l13.5 -1.3l17.5 2l0 69.8l-20 -2.8l-20 -0.7l-6 -2l-3.1 -2.5l-1.6 -2.5l-0.7 -2.5l0.2 -5l2 -5l5.3 -10l2 -7.5l0.2 -7.5l-1.8 -12.5l0.2 -2.5l1.2 -2.5l2.1 -1.8l7.5 -2.9zM608.9 198.5l1.1 -1.2l2.5 -0.2l2.5 1.5l10 14.6l2.4 5.3l0.4 5l-0.8 2.5l-2 3l-5 3.4l-5 0.8l-2.5 -0.9l-2.5 -3.4l-0.8 -5.4l1.6 -12.5l-2.5 -10z"/>
<path fill="#ffd200" d="M497.2 88.5l10.3 -0.7l10 0.6l12.5 1.9l12 3.2l8 2.9l7.5 3.9l3.2 3.2l2.2 5l1.2 7.5l1.6 20l3.9 17.5l0.3 5l-0.4 5l-3.1 10l-7.1 15l-10.9 15l-10 10l-3.2 5l-0.5 5l1.2 5l2.4 5l4.2 5.2l7.5 5.8l27.5 15.7l15 4.8l14 6l8.5 2l35 3.9l5 -0.1l5 -1.3l4.3 -2l15.7 -9.5l0 304.5l-560 0l0 -53.5l2.5 -0.7l5 -2.7l3.6 -3.1l3.8 -5l3.7 -7.5l5.7 -15l5.9 -12.5l1.1 -5l0.4 -5l0.2 -25l0.6 -10l-0.2 -5l-1.3 -7.5l0.5 -5l3.2 -10l6.5 -12.5l2 -5l5.2 -20l4.9 -22.5l1.7 -4.8l2 -2.7l3.1 -2.5l9.9 -5.7l7.5 -6.1l4.7 -5.7l7.8 -11.7l5 -4.9l6.9 -3.4l20.6 -6.3l10 -5.2l27.5 -19.1l17.3 -14.4l9.5 -10l7.8 -10l10.4 -17.1l8.7 -12.9l10.4 -17.5l10.2 -15l8.2 -10l5 -4.5l5 -3.2l10 -4.9l27.5 -10.4l10.2 -4.5l8.9 -5l23.4 -15.1l10 -5l13.1 -4.9l11.9 -3.3l7.5 -1.4zM654.6 98.5l5.4 -1.9l5 -0.5l7.5 0.9l7.5 2.2l0 44.6l-12.5 1.3l-25 -0.2l-4.1 -1.4l-2.2 -2.5l-0.6 -2.5l1.3 -5l6.7 -12.5l6.4 -17.4l2.5 -3.5z"/>
<path fill="#ffc600" d="M491.3 101l8.7 -1.4l10 0.3l10 1.5l10 2.8l7.5 3.8l3.9 3l3.6 4.8l3.9 7.7l3 10l2.8 15l0.8 12.5l-1.5 12.5l-4.3 15l-3.1 7.5l-4.1 6.6l-7.5 7.3l-3 3.6l-1.3 2.5l-0.9 5l1 5l2.5 5l3.5 5l4.7 5l6 4.7l27.5 17.6l15 6.4l10 6.6l5 2.1l30 3.4l7.5 2l12.5 5l5 -0.4l15 -5.9l5 -1.2l0 287.2l-560 0l0 -50.7l2.5 -0.7l5 -2.9l5 -4.5l2.8 -3.7l4.7 -9l5 -12.8l5.3 -10.7l1.9 -5l1.1 -7.5l-0.5 -25l0.7 -12.5l-1.5 -12.5l0.5 -5l3.1 -10l8.7 -17.5l6.9 -25l3.8 -15.9l3 -6.6l2.4 -2.5l11.8 -7.5l6.2 -5l4.3 -5l8.4 -12.5l4.8 -5l6.6 -3.6l17.5 -5.1l10 -4.8l30 -20.6l17.5 -14.4l8.9 -9l10.1 -12.5l19.5 -30l9 -14.8l12.5 -17.6l7.5 -8.3l5 -4.1l12.5 -6.8l35 -12.9l25 -12.1l7.5 -2.8l7.5 -1.2l5 0.9l5 2.5l2.5 0.6l2.5 -0.9l3.9 -5l5 -5l3.9 -2.5l4.7 -2.1zM500 449.9l-2.5 2.3l-0.4 3.8l2.9 3.5l2.5 0.1l2.5 -2.1l0.8 -1.5l0.1 -2.5l-1.3 -2.5l-2.1 -1.2zM659.6 116l2.9 -1.5l2.5 -0.5l5 0.4l3.5 1.6l5.1 5l1.3 2.5l0.1 2.6l-0.9 2.4l-4.5 5l-4.1 2.5l-3 1l-5 0.3l-7.5 -1.8l-2.9 -2l-0.8 -2.5l0.2 -2.5l1.9 -5l4.1 -5.8z"/>
<path fill="#ffba00" d="M499.6 118.5l5.4 -0.5l7.5 0.8l7.5 2l5.6 2.7l4.4 3.8l2.8 3.7l4 7.5l1.8 5l1.8 7.5l1.7 15l-1.7 25l-1.1 5l-1.1 2.5l-8.2 10.5l-2.5 4.5l-2 7.5l0.6 5l1.4 2.5l5.7 7.5l4.9 5l9.4 7.5l15.5 10l12 8.7l13.1 6.3l4.4 3l5 4.5l4.1 2.5l15.9 1.1l12.5 1.9l10 2.9l12.5 5.6l5 1.1l7.5 -0.4l15 -3.2l0 276l-560 0l0 -47.8l2.5 -0.8l5 -3l5 -4.5l3.1 -3.9l4.3 -7.5l7.4 -17.5l6.3 -12.5l1.1 -5l0.2 -5l-1.2 -25l0.7 -15l-1.4 -10l0.4 -5l3.2 -10l8.8 -17.5l11.6 -40l2.2 -5l1.9 -2.5l2.8 -2.5l11.7 -7.5l4.4 -3.7l5 -6.2l8.6 -12.6l5.3 -5l6.1 -2.9l17.5 -5.2l10 -5.2l32.5 -23l16 -13.7l9.7 -10l8 -10l18.3 -27.5l10.5 -16.9l10 -13.3l7.5 -8.5l7.5 -6.2l7.5 -4.3l7.5 -3.3l32.5 -10.8l22.5 -8.3l5 -1.1l5 0l5 1l10 3.4l7.5 0.2l7.3 -1.9l15.2 -6.9zM500 440.8l-2.5 1l-2.5 2.7l-1.7 4l-0.7 5l1.1 5l3.8 7.3l2.5 3.7l2.5 0.1l5 -4l4 -4.6l2.6 -5l0.8 -5l-0.5 -2.5l-1.3 -2.5l-2.7 -2.5l-2.9 -1.4l-5 -1.3z"/>
<path fill="#ffae00" d="M435 133.5l7.5 -1.5l7.5 -0.3l17.5 4.6l12.5 1.7l7.5 -0.4l12.5 -2.7l5 1l5 2.7l6.4 4.9l3.6 4.1l5 10l1.8 5.9l4 20l0.4 10l-2 7.5l-7 17.5l-1 5l0.4 2.5l1.2 2.5l9 10l11.8 10l18.4 12.5l10.5 8.1l15 8.3l10 8.1l2.5 1.3l5 1l15 1.5l10 2.3l7.5 2.6l15 6.8l5 1.5l7.5 1l15 -0.6l0 265.6l-560 0l0 -44.9l5 -2.1l5 -3.8l7.5 -9l4.2 -7.7l6.5 -15l5.7 -10l2 -5l1 -7.5l-2.2 -25l0.8 -15l-1.5 -12.5l0.4 -5l3.2 -10l9 -17.5l3.4 -12.2l5.8 -15.3l3.6 -12.5l2.6 -5l5.4 -5l10.1 -6.3l4.2 -3.7l14.5 -20l3.8 -3.6l5 -2.6l17.5 -5.2l10 -5.2l11.2 -8.4l22 -15l19.3 -16.4l8.2 -8.6l8.1 -10l15.4 -22.5l10.8 -17.5l5 -7l10 -12l7.5 -7.1l7.5 -5.1l10 -4.8l12.5 -4.2l32.5 -9.1zM492.5 431.3l-1.9 2.2l-0.7 2.5l-0.7 10l0.2 7.5l4.2 15l-0.7 10l0.4 2.5l1.7 3.1l2.5 1.2l2.5 -0.7l2.5 -2.2l7.5 -10.7l9.1 -10.7l3.5 -7.5l0.7 -5l-1.2 -5l-1.8 -2.5l-2.8 -1.9l-15 -6l-7.5 -2z"/>
<path fill="#ffa100" d="M431 141l11.5 -1.3l10 1.1l15 4.6l12.5 5.3l15 1.8l5 2l2.5 1.5l5.5 5l4.5 6.3l9.2 21.2l1.7 7.5l-0.1 7.5l-1.8 7.5l-3.5 10l-0.3 5l2.5 5l10.2 10l12.1 9.6l17.5 12.2l10.7 8.2l14.3 8.8l12.5 9l5 1.8l15 2.4l12.5 3.5l7.5 3.1l17.5 9.3l5 1.9l20 1.6l0 256.1l-560 0l0 -41.9l5 -2.2l5 -3.7l7.5 -8.9l4.7 -8.3l7.8 -17l6.7 -10.5l1.8 -5l0.5 -7.5l-2.4 -15l-0.8 -10l0.8 -15l-1.5 -12.5l0.4 -5l3.1 -10l9.2 -17.5l3.7 -12.5l6.7 -15l3.8 -12.5l2.9 -5l5.1 -4.3l9.6 -5.7l3 -2.5l16.3 -22.5l2.6 -2.5l4.8 -2.5l16.2 -4.6l10 -5.2l13.4 -10.2l22.7 -15l17.9 -15l11.7 -12.5l10 -12.5l8.7 -12.5l10.6 -17.8l5 -7.3l10 -11.7l8.9 -8.2l8.6 -5.6l10 -4.4l20 -5.6l20 -4.2zM492.5 423.4l-2.5 0.1l-2.5 1l-1.9 1.5l-1.5 2.5l-0.6 5l2.8 20l4.1 15l0.2 12.5l4.4 12.1l2.5 -0.3l5 -4.6l12.4 -14.7l10 -10l4.6 -7.5l1.6 -7.5l-0.8 -5l-1.2 -2.5l-4.1 -4l-25 -11.7l-6.2 -1.8zM657.5 408.5l-2.5 0.6l-2.1 1.9l-0.6 2.5l0.5 2.5l2.2 3.8l2.5 2.2l5 2.6l2.5 0.5l2.1 -1.6l0.4 -1.8l-1.1 -5.7l-3.2 -5l-3.2 -2.1l-2.3 -0.4zM495 494.9l0 3.7l0.1 -2.6z"/>
<path fill="#ff9500" d="M422.1 148.5l15.4 -1.2l12.5 1.5l10 3l15 6.3l10 3.5l8.4 4.4l5.9 5l3.2 3.9l6.3 11.1l6.2 8.6l2.5 4.7l1.2 4.2l0.1 5l-4.2 12.5l-0.5 5l0.9 3l2.5 4.2l8.3 7.8l44.2 32.8l27.5 18.1l5 1.8l19 4.8l12.5 5l9 5l9.5 8.1l5 3l10 0.2l12.5 2.5l0 92.6l-5 -2.8l-10 -6.7l-5 -2l-5 -0.7l-5 0.6l-2.5 1.5l-2.6 3.7l-0.6 5l1.4 5l3.4 5l7.8 7.5l5.6 6.2l2.5 1.9l2.5 1.1l5 0.6l7.5 -1.4l0 129.1l-560 0l0 -38.9l5 -2.2l5 -3.7l6.7 -7.7l6.2 -10l8.3 -17.5l7.4 -10l2.4 -5l0.7 -5l-0.2 -5l-3.5 -15l-1.1 -10l0.9 -15l-1.6 -12.5l0.4 -5l3.1 -10l8.4 -15l4.9 -15l7.9 -15l2.9 -10l2.2 -5l2.1 -2.5l3.1 -2.5l9.3 -5l4.5 -3.5l14.8 -21.5l2.7 -3.3l2.5 -1.8l15 -4.2l10 -4.4l7.5 -5l10 -8.2l22.5 -14.2l17.5 -14.2l9.6 -9.7l15.5 -17.5l7.2 -10l7.8 -15l4.9 -7.8l7.5 -9.1l10 -9.6l10 -6.8l10 -4.5l10 -2.8l20 -4.1zM482.5 417.4l-2.5 1.1l-1.9 2.5l-1.1 5l0.3 5l5.8 22.5l4.6 15l0.6 12.5l1.7 10l-0.6 10l0.8 2.5l2.3 2.4l2.5 0.1l2.5 -1.9l5.5 -10.6l9.5 -11.5l5 -5.2l12.9 -10.8l4.3 -5l3.3 -7.5l0.8 -5l-0.1 -7.5l-1.2 -3.4l-2.5 -2.4l-3.3 -1.7l-16.7 -5.9l-15 -8.5l-7.5 -2l-7.5 -0.2zM492.5 546.1l-1.8 2.4l1.7 2.5l2.1 -2.5z"/>
<path fill="#ff8900" d="M412.3 156l7.7 -1l10 -0.5l12.5 1.3l9.4 2.7l25.6 9.6l7.5 3.7l4.8 4.2l1.9 2.5l2.5 5l3.3 10l2.5 3.9l2.5 1.6l7.5 2.2l2.5 1.9l1.7 2.9l0.5 2.5l-0.3 2.5l-3.8 10l-0.5 5l0.4 2.5l2.2 5l4.8 5.4l52.5 38.6l22.5 15.1l7.5 3.7l20.8 7.2l10.3 5l8.7 5l2.7 2.7l1.3 2.3l0.4 2.5l-0.6 2.5l-3.1 5l-0.3 2.5l1.9 2.5l4.3 2.5l5.8 2.5l2.8 0.4l2.5 -0.4l2.5 -1.1l7.5 -4.9l5 -0.2l7.5 1.9l0 70.5l-5 -0.7l-12.5 -4.8l-7.5 -1.4l-5 0l-5 1.7l-4.7 4l-2.9 5l-0.5 5l1.3 5l3.2 5l11.1 10.1l10 11.3l2.5 2.1l5 2.7l5 1.3l5 0.5l0 117l-560 0l0 -36l2.5 -0.8l5 -3l7.5 -6.9l8.6 -13.3l10 -20l7.3 -7.5l3.4 -5l1.1 -5l-0.6 -7.5l-1.4 -5l-3.4 -8.6l-1.8 -11.4l-0.1 -5l1 -10l-1.6 -11l0.3 -6.5l3.2 -10l9.7 -17.5l4.3 -13l9.2 -14.5l2.6 -10l2.5 -5l2.6 -2.5l3.1 -1.9l7.5 -3.2l3.8 -2.4l2 -2.5l4.2 -7.6l12.5 -17.4l5 -2.1l12.5 -3.5l10 -5l5 -3.5l10 -8.6l24.6 -14.8l18.8 -15l14.1 -14.1l9.3 -8.4l6.7 -7.5l3.4 -5l5.6 -14.6l4.6 -7.9l6.1 -7.5l9.3 -8.7l9.1 -6.3l8.4 -4.2l10 -3.1l12.5 -2.3zM450 382.6l-1 0.9l-0.7 2.5l0.7 2.5l1.4 2.5l8.1 10l3.5 12.5l13 27.2l10 28.7l1.9 21.6l-0.6 10l2.2 12.5l-3.4 10l-2.1 12.5l-2.9 10l-0.6 5l0.3 2.5l2.7 5.4l5 4.5l5 1.9l5 -0.4l5 -2.5l2.5 -2.1l2.5 -3.9l0.4 -2.9l-1.1 -5l-6 -12.5l-1.8 -5l-2.4 -15l0.2 -2.5l8.2 -16.8l6.2 -8.2l8.8 -8.7l15.9 -11.3l5.4 -5l1.9 -2.5l1.3 -2.5l1.2 -5l0.5 -7.5l1.5 -7.5l0 -5l-1.1 -2.5l-3.1 -2.5l-3.5 -1.1l-15 -1.4l-5 -1.2l-5 -2.4l-10 -7.6l-20 -6.9l-17.5 -8.3l-2 -1.1l-2.3 -2.5l-3.2 -7.5l-2.5 -2.6l-5 -3.2zM475 312.4l-13.2 8.6l0.8 2.5l7.4 5.4l10 8.5l2.5 1.5l2.5 0.5l2.5 -0.5l2.2 -2.9l0.4 -2.5l-0.6 -5l-2.1 -7.5l-2.4 -4.6l-2.5 -2.6l-2.5 -1.5l-2.5 -0.5zM237.5 382.8l-0.8 0.7l-0.9 2.5l0.5 2.5l1.2 1.7l2 0.8l3 -0.3l2.5 -1.3l3.3 -3.4l-1 -2.5l-4.8 -1.5l-2.5 -0.1zM260 378.2l-3.3 2.8l0.8 1.5l2.5 0.5l4.2 -2l1.2 -2.5l-2.9 -1z"/>
<path fill="#ff7c00" d="M404.2 163.5l15.8 -1.4l7.5 0.2l8.5 1.2l9 2.7l27.5 10.3l5 2.4l2.7 2.1l2.3 2.8l4.1 9.7l3.1 5l7.8 6.6l6.2 3.4l2.2 2.5l0.3 2.5l-2.1 10l0.3 5l5.6 14.6l2.5 3.9l10 2.9l11.2 6.1l21.4 15l24.9 18.7l12.5 7.7l11.8 6.1l6.9 5l1.6 2.5l-0.9 2.5l-9.4 4.7l-2.9 2.8l-0.8 2.5l0.2 2.5l1.3 2.5l2.2 2.3l7.5 4.9l7.5 3.2l17.5 5.3l17.5 3.6l12.5 1.9l3 1.3l2.3 2.5l1.8 5l0.6 5l-0.3 2.5l-1.3 2.5l-2.6 2.5l-8.5 4.1l-2.5 2.3l-1.9 3.6l-1.7 5l-4.2 2.5l-7.2 3l-7.5 5.8l-4.8 6.2l-1 2.5l-0.5 5l2.2 7.5l2.9 5l4.8 5l11.6 10l12 15l5.3 3.8l7.5 3.2l5 1.5l0 106.5l-170.9 0l3.7 -7.5l0.7 -5l-1 -5.6l-8.7 -19.4l-1.3 -4.4l-0.9 -10.6l1.6 -7.5l4.5 -10l7.3 -9l10 -8.5l19.6 -12.5l5.2 -5l3.4 -7.5l1.1 -10l3.2 -10.2l0.8 -7.3l-0.8 -3.4l-2.3 -4.1l-2.7 -2.1l-2.5 -1l-7.5 -0.7l-15 1.6l-5 -0.7l-2.5 -1.2l-7.5 -8.3l-13.6 -5.1l-8.9 -5l-5.6 -5l-3.5 -5l-0.7 -2.5l0.3 -2.5l7 -11.7l7.5 -16.9l1 -8.9l1.8 -7.5l0.4 -5l-0.8 -7.5l-1.9 -7.5l-2.3 -5l-7.2 -12.5l-1.8 -5l-0.7 -5l0.7 -12.5l-1.3 -2.5l-2.9 -0.3l-5 2.9l-2.5 2.3l-2.5 3.4l-3.8 9.2l-2.7 10l-1 1.8l-2.5 1.8l-2.5 0.8l-12 3.1l-3.2 2.5l0.2 2.5l22.1 25l1.6 2.5l0.5 2.5l-0.5 2.5l-1.6 2.5l-5 5l-4.6 2.7l-10 3.4l-4.8 3.9l-3 5l-1.7 7.5l1.1 7.5l3 7.5l16.3 27.5l14.1 21.6l7.5 16.1l4.4 12.3l1.6 20l-1.1 20l-3.9 17.5l-6.2 20l-0.9 5l0.5 5l4.3 10l-356.2 0l0 -33.1l2.5 -0.8l5 -3l7.5 -6.4l8.1 -11.7l11.9 -22.6l2.5 -2.9l8.9 -7l6.3 -7.5l0.7 -2.5l-0.9 -15l-2.3 -2.5l-2.7 -0.1l-2.5 -1l-2.5 -3.1l-2.5 -8.1l-0.4 -7.7l1 -10l-1.6 -10l0.3 -7.5l3 -10l9.1 -15l4.4 -12.5l1.7 -3.2l9.2 -11.8l2 -5l1.7 -7.5l1.3 -2.5l3.3 -3.2l10 -3.8l4.4 -3l1.9 -2.5l3.7 -8l12.5 -17.6l4.4 -1.9l10.6 -3.1l10 -5l7.5 -5.5l6.8 -6.4l3.2 -2.2l22.5 -12.8l7.5 -6.4l11.8 -8.6l15.7 -14l10 -6.4l10 -7.7l3.8 -4.4l1 -2.5l1.4 -12.5l3 -7.5l5.4 -7.5l7.9 -7.5l7.5 -5.3l8.1 -4.7l6.9 -2.7l10 -2.1zM492.5 248.4l-2.6 2.6l-1.4 5l0.2 2.5l1.3 4.4l2.5 2.2l5 0.1l5 -1.5l5 -2.6l3 -2.6l1.5 -2.5l0.5 -2.5l-0.2 -2.5l-1.1 -2.5l-1.2 -1l-12.5 -0.5l-2.5 0.4zM267.5 368.2l-15 6.6l-15 2l-5 1.8l-2.5 2.4l-1.6 2.5l-3.4 7.4l-2.5 3.5l-15 13.4l-2.5 3.2l-0.8 2.5l0.2 2.5l0.6 0.8l2.5 1.1l2.5 -0.9l7.5 -6.9l7.5 -4.6l19 -7l34 -15l7 -4.4l2.1 -3.1l0.1 -2.5l-1.2 -2.5l-3.5 -2.7l-5 -1.2l-7.5 0.5z"/>
<path fill="#ff7000" d="M392.3 173.5l7.7 -1.6l7.5 -0.5l12.5 0.3l10 1.1l7.5 1.8l7.5 2.5l17.5 7.8l5 2.8l3.8 3.3l16 20l3.5 5l2.4 7.5l0.4 5l-0.5 5l-1.2 2.5l-6.9 8.5l-2.1 4l-4.3 15l-2.9 5l-10 12.5l-7.7 15l-4.8 5l-13.2 6.5l-3.6 3.5l-0.9 2.5l0.2 2.5l1.1 2.5l7.8 7.5l1.9 2.5l2.2 5l0.5 5l-0.4 2.5l-2.3 5l-4 4.6l-7.5 6.9l-4.2 6l-2.1 5l-1.3 7.5l0.2 5l1.1 5l2.7 7.5l3.6 7.5l11.6 20l20.9 30.6l7.4 14.4l2.4 7.5l1.3 12.5l-0.6 12.5l-1.5 10l-4 17.4l-3.1 12.6l-4.7 15l-0.2 7.5l1.8 7.5l-346.3 0l0 -30.3l2.5 -0.9l5 -3l5 -3.8l4.7 -4.5l7 -10l10.8 -19.8l2.5 -3.6l2.5 -2.4l7.5 -5.1l5 -4.2l2.5 -2.5l2.8 -4.9l0.3 -5l-1.7 -15l-1.4 -4.4l-2.5 -1.8l-5 -0.8l-2.5 -1.1l-2.6 -4.4l-0.9 -7.5l0.8 -10l-1.6 -10l-0.2 -5l2.5 -10l2 -4.2l8.5 -13.3l4 -10.7l2.5 -3.9l10 -11.4l2.1 -4l2.6 -7.5l1.5 -2.5l3.1 -2.5l8.2 -3.4l5 -3.8l2.1 -2.8l5.2 -10l10.6 -15l4.6 -2.4l10 -3.6l7.5 -4.2l7.5 -5.6l10 -9l22.5 -12.5l10 -8.3l27.5 -20l20 -10.3l7.5 -2.8l5 -1.2l2.5 -1.5l2.4 -3.6l0.4 -2.5l-0.5 -5l-2.4 -10l0.1 -3.4l1.5 -4.1l3.6 -5l5.3 -5l7 -5l7.6 -4.1zM277.5 355.6l-10 4.4l-13.5 8.5l-4 1.9l-5 1.6l-12.5 2.6l-3.2 1.4l-3.4 2.5l-15.9 16.7l-7.5 9.5l-3 6.3l-0.3 5l0.8 2.5l2.1 2.5l2.9 1.1l5 -0.7l12.5 -8.1l7.5 -3.8l49.4 -18.5l9 -5l4.1 -4.4l1.6 -3.1l0.6 -2.5l-0.4 -5l-3.1 -7.5l-3.5 -5l-2.7 -2.1l-5 -1.1zM519.6 263.5l2.9 -1.4l5 -0.4l5 1.6l4.9 2.7l17.4 12.5l30.8 25l2.1 2.5l1.1 2.5l0.2 2.5l-1.6 10l0.3 5l2.3 7.5l2.8 5l4.7 5.5l5 3.8l7.5 4.2l12.5 5.1l5.1 3.9l2 2.5l1.3 2.5l0.1 5l-2.7 7.5l-7 15l-1 5l-0.2 5l0.5 5l2.3 7.5l2.6 5l3.5 5l16 15.5l13.5 17l6.5 5.6l15 9.6l0 94.8l-164.4 0l1.6 -7.5l-0.1 -5l-2 -7.5l-6.5 -15l-2.6 -7.5l-0.9 -10l1.5 -7.5l2.1 -5l3.1 -5l8.2 -8.6l10 -7.3l19.7 -11.6l5.7 -5l3 -5l2.7 -7.5l3.1 -17.5l0.7 -7.5l-0.7 -7.5l-1.7 -4.7l-2.5 -4.1l-5 -4.7l-5 -2.3l-15 -1.8l-7.6 -2.4l-8.8 -5l-6.1 -4.6l-2.9 -2.9l-2.7 -5l-0.7 -7.5l1.8 -17.5l-0.5 -12.5l3.2 -12.5l0.2 -7.5l-1.5 -5l-2.5 -5l-9.4 -13.3l-2.2 -4.2l-1.5 -5l-0.1 -5l1.2 -5l3.1 -5l4.5 -3.9l15 -9.8z"/>
<path fill="#ff6400" d="M398.1 186l4.4 -1.3l5 -0.6l17.5 0.1l10 1.3l10 3.5l11.9 7l10.6 9.4l10.1 13.1l2.7 7.5l0.3 5l-0.9 5l-3.8 12.5l-2.6 12.5l-2.1 5l-8.9 12.5l-9.8 15.9l-5 4.4l-12.8 7.2l-2.5 2.5l-1.6 2.5l-0.9 5l1.6 5l2.1 2.5l6.5 5l1.5 2.5l0.3 2.5l-2 5l-11.4 12.5l-3.4 5l-3.9 7.5l-1.7 7.5l0.1 7.5l1.7 7.5l7.3 17.5l8.8 17.5l8.4 12.5l7.5 10l9.6 15l4.4 10l1.9 7.5l1.8 12.5l-0.1 10l-1.4 7.5l-3.9 15l-2.1 17.5l-5.6 15l-0.7 7.5l1.1 7.5l-338.1 0l0 -27.5l2.5 -0.9l5 -3.1l10.3 -8.5l9.2 -12.5l10.5 -17.7l4.5 -4.8l13 -9.6l2.7 -2.9l2.9 -5l0.7 -2.5l0.1 -5l-3.3 -20l-3.1 -4.1l-7.3 -3.4l-2.7 -3.5l-0.8 -4l0.1 -12.5l-1.8 -10l0.4 -5l2.2 -7.5l2.4 -4.5l7.4 -10.5l6 -12.5l11.6 -12.5l7.8 -12.5l2.6 -2.5l9.6 -6.1l4.1 -3.9l15.9 -23l4.8 -4.5l15.2 -8.4l18.6 -16.6l21.4 -12.2l12.5 -10l17.5 -11.9l25 -11.9l7.5 -2.4l10 -2.2l4.2 -1.9l3.3 -2.5l4.1 -5l6 -10l2.6 -12.5l2.2 -5l2.1 -2.5l3 -2.2l5 -2.6zM405 513.2l-2.5 1.1l-1.2 1.7l1.2 2.2l2.5 0l3.5 -2.2l0.4 -2.5l-1.4 -0.4zM422.5 500.7l-3.1 2.8l-1.2 2.5l0.2 2.5l1.6 0.4l2.5 -0.8l2.5 -2l1 -2.6l-1 -2.7zM302.5 333l-10 1.6l-12.5 0.4l-5 1.7l-2.5 1.8l-2 2.5l-4.2 7.5l-3.8 5l-7.1 7.5l-5.4 4.5l-7.5 3.7l-16.3 4.3l-7.7 5l-13.5 14.4l-7.5 11.1l-1.8 4.5l-0.9 5l0.7 5l2 3.5l2.5 2.1l2.5 1l2.5 0.3l5 -0.9l15 -8.4l7.5 -3.4l30 -9.8l17.5 -4.7l7.5 -3.1l5 -3.3l5 -5.2l3.4 -5.6l1.8 -5l1.5 -7.5l0.8 -1.9l7.5 -3.8l1.9 -1.8l2.9 -5l1.4 -5l0.6 -7.5l-1.4 -5l-1.7 -2.5l-3.7 -2.9l-2.5 -0.8l-5 0.2zM521.4 278.5l3.6 -0.4l2.5 0.6l3.6 2.3l2.2 2.5l0.6 2.5l-3.3 2.5l-5.6 2.9l-5 5.6l-2.5 1.8l-5 0.8l-5 -1.5l-2.5 -1.6l-2.5 -3l-0.6 -2.5l0.2 -2.5l1.3 -2.5l4.1 -3.2l12.5 -3.9zM559.1 346l3.4 -1.6l2.5 -0.5l5 0.7l5 2.3l2.5 1.7l2.2 2.4l9.3 15l8.5 9.4l2.5 3.4l1.8 4.7l2.3 10l2.8 7.5l5 10l4.7 7.5l7.7 10l16.7 17.5l14 18.1l15.1 14.4l7.4 12.1l2.5 3l0 74.9l-159.6 0l0.3 -7.5l-1.1 -7.5l-8.6 -22.5l-2.5 -10l0 -7.5l2.6 -7.5l3.2 -5l3.2 -3.7l14 -11.3l11 -6.5l12.8 -6l9.1 -5l3.9 -2.5l1.8 -2.5l-1.1 -17.5l3 -27.5l-0.6 -10l-1.7 -10l-1.8 -5l-2.9 -4.7l-5 -5.9l-12 -9.4l-1.5 -2.5l-1.5 -5l-0.1 -2.5l0.7 -2.5l3.1 -5l3.8 -5l5 -4.1z"/>
<path fill="#ff5800" d="M411 198.5l9 -1.9l10 0.2l5 0.9l7.5 3.1l3.9 2.7l19.7 17.5l3.4 5l1.8 7.5l-0.1 5l-1.7 10l-1.2 12.5l-3.3 7.2l-7.8 10.3l-6 10l-3.8 5l-4.9 3.7l-12.7 6.3l-3.3 2.5l-3.6 5l-0.9 2.5l-0.3 5l1 5l2.4 7.5l0 5l-2.2 5l-5 7.5l-6.2 12.5l-2 5l-0.8 5l0.6 5l1.4 5l9.1 20l8.9 22.5l2.8 5l10.8 13.5l6 9l5.1 10l2.4 7.5l0.8 12.5l3.2 10.8l0.8 6.7l-0.8 5.3l-6.3 17.2l-0.2 15l-0.4 2.5l-3.6 10l-1.6 7.5l0.2 12.5l-328.1 0l0 -24.5l2.5 -1l7.5 -5l8.5 -7l10.1 -12.5l11.6 -17.5l4.8 -4.7l7.5 -5.2l5 -4.2l3.1 -3.4l3 -5l0.8 -2.5l0.5 -5l-0.9 -5l-2.3 -7.5l-1.5 -12.5l-2.7 -4.3l-7.3 -5.7l-1.5 -2.5l-3.4 -22.5l0.5 -5l2.4 -7.5l1.8 -3.1l9.1 -11.9l5.9 -10.1l12.3 -12.4l10.2 -12.4l9.9 -7.6l2.5 -2.5l12.6 -16.7l10 -8.5l4.8 -4.8l10.2 -8.1l9.7 -11.9l5.3 -4.8l17.5 -10.3l19.3 -14.9l8.2 -5.6l5 -2.7l15 -4.8l7.5 -3.8l5 -1.9l17.5 -2.8l7.5 -3.1l3.6 -2.8l4.6 -5l10.8 -15l3.5 -3.9l5 -4.1l7.5 -4.1zM417.5 493.4l-4.9 2.6l-12.6 8.2l-4.6 4.3l-1.7 2.5l-1.2 3.1l-0.2 4.4l2.3 5l2.9 2.7l5 2.3l5 0.7l5 -0.3l7.5 -1.6l5 -1.8l5 -2.6l5 -4.4l1.7 -2.5l1.6 -5l0 -5l-0.9 -5l-2.3 -5l-2.6 -2.5l-5 -1.9l-2.5 -0.1l-5 0.9zM302.5 323.3l-15 2.7l-10 0.5l-10 1.7l-5 1.9l-7.5 5.2l-1.7 3.2l1.7 7.5l-0.8 5l-2.2 5l-3.4 5l-3.6 3.3l-5 2.7l-5 1.4l-12.5 1.7l-7.5 3.1l-5 4.3l-10 11.9l-6.6 11.6l-2.5 7.5l-0.6 5l0.4 5l2.2 5l2.5 2.5l4.6 2.1l2.5 0.4l5 -0.5l5 -1.7l12.5 -6.7l10 -4.2l27.5 -7.2l22.5 -4.2l7.3 -3l5.2 -3.6l5 -5l9.4 -13.9l9.1 -10l3.8 -5l3.9 -7.5l1.6 -7.5l0.1 -7.5l-1 -5l-1.9 -5.2l-2.5 -3.9l-2.5 -2.1l-5 -2.2l-5 -0.5l-7.5 0.8zM350 285.2l-6.8 3.3l-2.7 2.5l-1.7 2.5l-0.8 2.5l0.2 2.5l1.8 3.6l2.5 1.8l5 0.9l5 -0.7l2.5 -1l3.6 -2.1l2.7 -2.5l1.6 -2.5l0.9 -2.5l0 -2.5l-1.3 -2.8l-2.5 -2l-2.5 -1l-5 -0.4zM307.5 510.5l-2.5 1.1l-2.3 1.9l-0.9 2.5l-0.1 2.5l0.8 2.5l2.5 1.7l2.5 0.2l2.5 -0.7l2.5 -1.4l2.5 -3.4l0.4 -1.4l-0.4 -2.9l-1.8 -2.1l-3.2 -0.8zM588 413.5l4.5 -1l2.5 0.3l5 1.7l5 3.1l7.5 6.5l21.1 21.9l16.4 22.9l11.2 14.6l2 5l1 5l1.4 27.5l1.9 11.7l1.5 3.3l4 5l4.5 3.7l2.5 1.2l0 22.6l-155.2 0l-0.6 -7.5l-1.1 -5l-6.6 -17.5l-4.4 -15l-0.9 -7.5l1.1 -5l2.7 -5.2l5 -6l12.5 -10.2l5.3 -3.6l7.2 -3.7l5 -2l10 -2.9l15 -2.9l2.8 -1l3.5 -2.5l1.4 -2.5l0.1 -2.5l-0.8 -2.5l-5.8 -10l-1.4 -5l-0.1 -7.5l1.4 -7.5l3.9 -10.2l4.6 -7.3l2.9 -2.3z"/>
<path fill="#ff4b00" d="M413.8 208.5l3.7 -0.9l5 -0.2l7.5 1.1l5 1.9l7.5 4.8l7.5 6.1l10 6l2.9 3.7l1.5 5l-0.9 12.5l0.6 10l-1 5l-3.1 4.6l-8.6 10.4l-6.4 11.2l-2.5 2.6l-2.5 1.7l-23.5 7l-4.7 2.5l-2 2.5l-0.8 5l0.9 7.5l2.1 10l-0.5 7.5l-2.6 7.5l-9.8 17.5l-2.1 5l-0.6 2.5l0.3 5l1.8 5l4.3 7.5l8.6 12.5l2.5 5l2.9 15l1.5 5l22.1 32.5l3.7 7.5l1.2 5l0.1 2.5l-1.2 5l-1.7 2.7l-2.5 2l-2.5 1l-12.5 2l-7.5 2.5l-10 4.9l-10 6.3l-6.6 6.1l-3.7 5l-2 5l-0.4 5l1.4 5l3.2 5l3.1 3.1l5 3.5l5 2.1l5 1.1l15 1l5 1.6l2.5 1.7l2.5 3.3l1.1 2.6l3.3 20l-316.9 0l0 -21.2l2.5 -1.2l10.5 -7.6l7 -5.8l10.4 -11.7l9.6 -13l5 -5.8l12.5 -9.6l5 -4.6l3.3 -4.5l2.2 -5l0.6 -7.5l-1.2 -5l-3.8 -10l0 -10l-0.9 -5l-2.7 -4.6l-5.1 -5.4l-1.9 -5l-3 -12.5l-0.2 -5l0.5 -2.5l2.2 -5.4l2.5 -3.3l5 -4.3l2.5 -1.3l2.5 -0.1l0.9 1.9l0.2 2.5l-1.7 17.5l0 5l0.9 5l1.3 2.5l3.4 3.5l3 1.5l4.5 1l5 0l7.5 -1.8l17.5 -8.6l10 -3.6l30 -5.6l17.5 -0.6l5 -0.7l5 -1.7l5 -3.1l5.3 -5.3l12.2 -16.5l17.8 -18.5l4.8 -7.5l1.5 -5l0.3 -5l-2.4 -17.5l-0.1 -5l1.3 -5l1.5 -2.5l2.6 -2.5l3.8 -2.5l23.9 -11.1l2.5 -0.6l5 -0.2l10 2l5 -0.5l4.3 -2.1l1.1 -2.5l-0.3 -2.5l-2.2 -5l-5.2 -7.5l-2.7 -2.7l-5 -3.6l-10 -5.2l-5 -0.8l-7.5 0.8l-7.5 2.1l-7.5 3.2l-15 8.9l-2.7 2.3l-1.9 2.5l-5.4 12.9l-2.5 3l-5.9 4.1l-5.2 2.5l-6.4 1.9l-12.5 2.3l-7.5 0.4l-12.5 -0.9l-5.4 -1.2l-0.6 -2.5l0.9 -7.5l6.6 -15l4.3 -5l14.2 -8.8l12.5 -10.8l12.5 -9.2l5 -2.8l7.5 -2.2l10 -0.9l2.5 -0.9l5 -3.4l5 -1.9l5 -0.3l15 1.4l5 -0.7l5 -2.3l5 -4.2l2.5 -3l10.1 -15l4.1 -5l5.8 -4.7l5 -2.4zM305 505.3l-5 2.1l-4.1 3.6l-4.4 7.5l-4.2 10l-2.2 7.5l-0.1 3.1l0.3 1.9l1.3 2.5l3.4 2.5l2.5 0.5l2.5 -0.3l2.5 -1.4l7.5 -6.8l16.9 -12l4.4 -5l0.9 -2.5l-0.1 -2.5l-1.1 -2.5l-4.6 -5l-6.4 -3.3l-2.5 -0.5l-5 0.1zM237.7 333.5l2.3 -1.6l0.8 1.6l-1 5l0.6 2.5l4.6 6.4l1.3 3.6l-0.4 5l-2.7 5l-2.7 2.5l-3 1.5l-5 0.9l-5 -0.4l-5 -1.3l-7 -3.2l-1.5 -2.5l0.2 -2.5l3.2 -5l10.1 -9.8l10 -7.6zM590.5 426l4.5 -1.1l5 0.5l5 2.1l5 3.2l7.5 6.4l8.7 8.9l9 12.5l13.1 22.5l3 7.5l0.9 10l-1.8 17.5l1.1 20l0.9 5l3.4 5l12.4 10l11.2 10l0.6 0.7l0 1.8l-150.8 0l-3 -12.5l-7.2 -17.5l-3.6 -15l-1 -7.5l1.5 -5l3.3 -5l4.5 -5l11.3 -9.3l7.5 -4.6l5 -2.1l7.5 -1.9l20 -2.4l6 -2.2l4 -2.9l1.5 -2.1l1 -2.5l0.1 -5l-1.6 -5l-5.3 -10l-1.2 -7.5l0.9 -5l2.1 -4.9l2.5 -3.5l5 -3.9z"/>
<path fill="#ff3f00" d="M413.7 218.5l3.8 -0.9l5 0l7.5 1.9l5 2.8l10 7.9l2.5 1.3l7.5 1.9l2.3 2.6l0.6 2.5l-0.1 10l1 10l-0.4 2.5l-1.3 2.5l-9.9 10l-3.3 5l-3.3 7.5l-3.1 2.9l-5 1l-7.5 -0.2l-4.2 -1.2l-3.3 -2l-4.7 -5.5l-7.4 -12.5l-2.9 -3l-5.8 -4.5l-2 -2.5l-1 -2.5l-0.1 -2.5l1.4 -4.3l6.5 -8.2l1.3 -2.5l1 -7.5l1.4 -5l2.3 -3.6l5 -3.5zM344.9 253.5l2.6 -1.6l2.5 -0.5l2.5 0.8l1.8 1.3l1.2 2.5l-0.2 2.5l-1.5 2.5l-2.9 2.5l-8.4 5.6l-16.2 14.4l-11.3 13.8l-5 4.6l-7.5 4.4l-5 1.5l-5 0.6l-7.5 -1.1l-2.8 -1.3l-2.6 -2.5l-1.1 -2.5l-0.3 -2.5l1.6 -7.5l1.4 -2.5l2.7 -2.5l8.6 -5.6l8.4 -9.4l3 -2.5l13.5 -10l2.6 -1.2l2.5 -0.7l5 -0.4l10 1.4l2.5 -0.4l2.5 -1.5zM364.3 313.5l10.7 -2.3l5 0.1l5 0.9l5 1.6l5 2.8l2.5 2.5l2.7 4.4l1.5 7.5l-1.2 7.5l-2.4 5l-9.8 15l-2.7 5l-1.1 5l0.5 7.5l2.6 7.5l4.3 7.5l4.3 5l8.8 7.8l1.1 2.2l0.4 2.5l-0.4 10l1 7.5l7.9 12l10 13l3.7 7.5l1 5l-1 5l-4.4 5l-7.3 5l-19.5 10.8l-7.5 5.7l-6 6l-4.2 5l-3.2 5l-1.4 5l0.7 5l2.5 5l3.8 5l10.3 10.2l5 3l15.7 6.8l3.5 2.5l2.1 2.5l2.8 5l2.5 7.5l-304.1 0l0 -17.5l2.5 -1.4l17.5 -13.6l14.6 -15l12.9 -14.9l5 -4.2l10 -6.8l4.1 -4.1l3.5 -5l2.7 -7.5l0.4 -7.5l-1.4 -5l-4.3 -7.5l-1.3 -5l1.3 -6.4l3 -6.1l3.8 -2.5l15.7 -5.2l17.5 -8.7l7.5 -2.7l5 -1.2l12.5 -1.7l17.5 -1.4l5 0.3l20 3.3l5 -1.2l2.1 -1.5l5.4 -6l11.9 -19l5.6 -6.8l5 -4.7l5 -3.5l14.2 -7.5l4 -5l2.6 -7.5l-0.1 -5l-1.1 -5l-5.1 -15l-0.4 -5l0.3 -2.5l2.5 -5l2.4 -2.5l3.2 -2.2l5 -2.2zM307.5 500.7l-5 1.2l-3.7 1.6l-6.8 5l-6.6 7.5l-11.7 15l-5 7.5l-2 5l-0.2 2.5l0.6 2.5l2.9 3.3l5 2.5l7.5 1.6l7.5 -0.6l5 -1.6l5 -2.8l15 -11.6l25 -15.2l3 -3.1l0.8 -2.5l-0.5 -2.5l-0.8 -1.3l-3.6 -3.7l-3.9 -2.5l-10.4 -5l-4.6 -1.6l-5 -1.2l-5 -0.2zM228.7 351l3.8 -1.7l2.5 0.2l3 1.5l1.9 2.5l0.5 2.5l-0.5 2.5l-1.8 2.5l-3.1 1.4l-2.5 0.1l-3.9 -1.5l-2.1 -2.5l-0.5 -2.5l1.5 -3.8zM594.2 433.5l3.3 -0.2l5 1.1l5 2.5l5 3.6l5 4.6l5 5.6l6.8 10.3l3.5 7.5l7.7 20l0.6 5l-0.6 15l0.2 10l1.5 12.5l1.5 7.5l1.9 5l2.7 5l4.2 5.6l8.2 9.4l3.2 5l-130 0l-3.3 -10l-8.9 -20l-3.5 -20l0.8 -5l2.8 -5l6.6 -7.5l9 -7.5l5.1 -3l7.5 -2.7l5 -0.9l15 -0.3l7.5 -0.9l7.5 -2.4l5 -3.5l2.3 -3.8l0.6 -2.5l-0.3 -7.5l-1.5 -5l-6.1 -11.8l-0.6 -5.7l0.6 -2.5l2.5 -4l2.5 -2l2.5 -1.1z"/>
<path fill="#ff3300" d="M418.8 228.5l3.7 -0.3l2.5 0.8l2.9 2l2.2 2.5l2.4 4.5l2.5 2.9l7.5 1.5l2.5 0.9l2.5 2l1.6 3.2l0.6 5l-0.6 2.5l-1.6 2.5l-2.5 1.7l-2.5 0.8l-2.5 0l-2.5 -0.8l-5.6 -4.2l-1.9 -2.5l-1.7 -5l-5.8 -2l-2.5 -2.1l-2.5 -3.5l-1.9 -4.9l-0.3 -2.5l0.6 -2.5l1.6 -1.9zM319.4 261l3.1 -0.7l2.5 0.3l4.6 2.9l1.1 2.5l-0.2 2.5l-3 4.6l-12.5 12.4l-5 3l-5 1.9l-5 5.7l-2.5 1.2l-2.5 0.4l-2.5 -0.5l-1.7 -1.2l-1.2 -2.5l0.1 -2.5l1.9 -2.5l3.4 -1.5l5 0l1.2 -1l-0.8 -7.5l0.7 -2.5l1.4 -2.5l2.5 -2.2l7.5 -4.2l5 -4.8zM365.7 321l9.3 -1.1l5 0l5 1.1l2.5 1.2l2.5 2l2.4 4.3l0.1 5l-2.5 5.4l-5 4.8l-5 2.2l-5 0.4l-5 -1.7l-2.5 -1.9l-5 -5.3l-2.8 -3.9l-1.9 -5l0.2 -2.5l1.5 -2.5l3 -1.7l2.5 -0.7zM357.5 381l5 -0.4l5 1.2l5 3.9l3.8 5.3l2 5l2.5 10l9.2 23.4l2.5 3.3l7.5 7.5l9.2 10.8l3.3 4.6l1.4 2.9l1.1 4.6l0 2.9l-0.6 2.5l-1.3 2.5l-2.6 2.5l-18 10.9l-22.5 17.6l-5 2.9l-2.5 0.8l-5 0.5l-5 -0.6l-17.5 -5.1l-20 -3.8l-5 -0.1l-5 0.8l-5 1.6l-5 2.5l-6.3 4.5l-26.2 21.9l-7.5 5l-10.7 5.6l-2.8 2.5l-1.9 2.5l-2.4 5l-1.4 5l-0.4 7.5l1.2 5l0.9 2l5 -1.9l2.5 -0.3l2.5 1l2 1.7l-129.5 0l0 -12.7l10 -9.2l12.5 -9.2l14.8 -13.9l12.7 -13.2l12.5 -8.5l8.6 -8.3l3.8 -5l1.2 -2.5l3 -10l0.8 -5l-1.3 -5l-6.1 -10l-0.5 -2.5l0.5 -2.5l1.3 -2.5l5.1 -5l12.4 -7.5l16.2 -8.5l7.5 -2.6l7.5 -1.2l12.5 -0.6l15 0.5l7.5 1.7l17.5 6l5 0.5l2.5 -0.5l5 -3.1l6.1 -7.2l10.5 -22.5l5.9 -7.8l5 -4.1l5 -2.5l15 -2.6zM590.7 443.5l1.8 -1.5l2.5 -0.7l2.5 0l5 1.5l5 2.5l6.4 5.7l5.8 7.5l2.8 4.6l1.6 5.4l1 12.5l4.4 27.5l5.4 25l2.5 7.5l2.2 5l10.2 17.5l2.2 5l-112.7 0l-2 -5l-10.6 -20l-2.1 -5l-1.9 -17.5l0.3 -5l0.7 -2.5l4.4 -7.5l4.5 -5l6.1 -5l6.3 -3.3l5 -1.4l5 -0.7l20 0.5l10 -0.8l7.4 -1.8l5.1 -2.7l1.6 -2.3l0.8 -2.5l0.7 -5l-0.2 -5l-2 -7.5l-7.7 -15l-0.7 -2.9zM355.7 526l4.3 -0.7l2.5 0.5l7.5 4l7.5 6.2l12.5 11.8l13.9 10.7l4.5 5l2.6 5l-128.6 0l12.6 -7.3l17.5 -13.6l7.5 -4.8l15 -7.9l20 -8.7z"/>
<path fill="#ff2600" d="M347.8 388.5l4.7 -0.1l5 0.7l4.5 1.9l3 2.8l1.4 2.2l1.4 5l0.1 12.5l5.7 20l1.9 5l1.6 2.5l2.7 2.5l7.7 4.6l3.5 2.9l4.4 5l2.6 5l0.5 5l-1 2.5l-4.1 5l-8.4 7.3l-15 10.2l-5 2.4l-5 1.5l-12.5 0.8l-35 -3.2l-5 0.4l-5 1.2l-7.5 3.2l-37.5 24.2l-17.5 10.1l-5.7 4.4l-4.5 5l-4.4 7.5l-2 7.5l-1.4 12.5l-102 0l0 -5.1l7.1 -9.9l2.9 -3.2l5 -4.1l8.2 -5.2l6.8 -6.5l11.1 -8.5l8.9 -8.4l10 -7.1l7.5 -7.5l11.9 -9.5l2.2 -2.5l3.7 -7.5l2.2 -3.2l5 -5.1l1.2 -1.7l0.7 -2.5l-1.9 -3.7l-4.4 -3.8l-3.1 -3.6l-2 -3.9l-0.4 -2.5l1 -5l1.6 -2.5l4.8 -5l7.1 -5l10.4 -5.6l7.5 -2.4l7.5 -0.8l10 0.3l12.5 1.7l7.5 1.8l22.5 6.9l7.5 0.3l5 -1.1l7.5 -3.9l2.7 -2.2l4 -5l2.5 -5l4.9 -17.5l4.2 -7.5l2.4 -2.5l4.3 -2.9l7.5 -2.1zM544.9 496l5.1 -1.3l7.5 -0.5l32.5 3.2l15 3.5l5 2.2l2.5 2.3l2.5 3.4l6.2 9.7l7.9 20l11.1 22.5l2.6 7.5l-96.1 0l-1.2 -2.5l-9.3 -12.5l-6.6 -12.5l-1.3 -5l-0.8 -12.2l0.4 -7.8l2.7 -7.5l3.5 -5l2.4 -2.5l6 -4zM350.4 536l7.1 -1l5 0.6l5 1.8l5 2.7l7.5 5.9l10.2 10l6.2 7.5l2.3 5l-100 0l1.4 -2.5l6.7 -7.5l5.7 -5l5 -3.5l17.5 -8.8l15 -5.1z"/>
<path fill="#ff1a00" d="M341.7 396l5.8 -2.1l5 0.2l4.3 1.9l2.4 2.5l0.8 1.6l1 5.9l-2 15l-0.1 5l1.9 7.5l3.2 5l4.3 5l13.4 12.5l3.2 5l0.7 2.5l0 2.5l-0.7 2.5l-2.4 3.5l-4.4 4l-7.6 5l-5.5 2.8l-5 1.9l-7.5 1.8l-10 1l-30 -0.2l-10 1.5l-7.5 3.2l-17.5 9.7l-15 6.5l-15 9.3l-13.8 7.5l-6.8 5l-5.3 5l-5.4 7.5l-3.3 7.5l-1.9 7.5l-1 10l-84.6 0l0.8 -5l1.9 -5l1.9 -3l4.1 -4.5l3.4 -2.2l7.5 -3.7l7.7 -6.6l9.8 -6.7l15 -12.1l13.8 -13.7l13.7 -9.3l2.9 -3.2l9.1 -12.5l1.5 -2.5l1.5 -4.5l-0.4 -5.5l-2.1 -4l-6.3 -8.5l-1.2 -5l1.3 -5l4.2 -5l7 -4.8l5 -2.7l5 -1.8l7.5 -0.8l7.5 0.6l7.5 1.5l27.5 8.3l12.5 2.8l7.5 0.5l5 -0.3l10 -2.3l10 -5l3.7 -3.5l1.5 -2.5l1.2 -2.5l1.2 -5l-0.2 -12.5l0.5 -5l1.7 -5l2.9 -3.7zM547.8 498.5l4.7 -0.6l7.5 0.4l24.4 5.2l10.6 4.2l9 5.8l6 5.9l5 7.5l17 31.6l1.9 5l1 5l-77.6 0l-1 -2.5l-4.1 -5l-9.7 -7.5l-2.5 -2.6l-2.5 -4.9l-2.5 -7.5l-0.9 -5l-1.4 -15l0.5 -5l1.5 -5l2.8 -4.3l2.5 -2.3l2.5 -1.6l5 -1.7zM345.2 543.5l7.3 -1.5l5 -0.2l5 0.8l7.5 2.9l7.5 5.4l5 5.1l5 7.5l1.8 5l-82.4 0l1 -2.5l3.4 -5l6.2 -5.4l12.5 -6.4l15 -5.7z"/>
<path fill="#ff0e00" d="M346.1 401l1.4 -0.6l2.5 0.1l2.5 1.4l0.9 1.6l-0.1 2.5l-0.8 1.9l-2.5 2.3l-2.5 0.4l-2.9 -2.1l-0.9 -2.5l0.2 -2.5l1.1 -1.7zM230.7 436l4.3 -1l7.5 0.6l10 2.9l12.5 5l7.5 2.3l15 3.2l12.5 1.8l17.5 0.6l15 -1.2l15 -2.2l7.5 0.3l7.5 2.7l7.1 5l3.3 5l0.4 2.5l-0.5 2.5l-2.8 3.8l-5 3.7l-5 2.6l-7.5 2.9l-17.5 3.9l-22.5 0.6l-7.5 0.9l-7.5 2.5l-12.5 6.9l-7.5 3.3l-7.5 2.1l-12.5 1.3l-2.5 1.3l-6.5 6.7l-3.3 2.5l-15.2 7.5l-7.5 4.4l-7.1 5.6l-5 5l-5.1 7.5l-5.3 10l-3.1 10l-0.9 7.5l-63.2 0l0.3 -5l0.8 -2.5l1.1 -1.9l2.5 -2.6l10 -4.2l5 -3.2l23.5 -20.6l16.5 -16.4l15 -11.2l14.5 -14.9l1.8 -2.5l2 -5l0.6 -7.5l0.8 -2.5l5.3 -1.6l1.1 -0.9l1.8 -2.5l0.4 -2.5l-0.8 -2.7l-2.5 -2.1l-2.5 -0.4l-2.5 0.9l-2.5 2l-2.5 0.9l-2.5 -2.1l-2.5 -3.9l-1 -5.1l0.6 -2.5l1.9 -2.5l6.7 -5l4.3 -2.2zM544.1 503.5l3.4 -1l5 -0.4l5 0.2l6.1 1.2l21.4 7.8l12.5 7.7l4.7 4.5l5.3 7.2l16.8 27.8l2.1 5l0.4 5l-57.7 0l-6.6 -18.4l-2.5 -4.7l-2.5 -2.7l-7.5 -4.7l-2.5 -2.9l-2.5 -4.5l-5 -11.4l-1.4 -5.7l0 -2.5l1.4 -3.9l2.5 -2.6zM347.8 548.5l7.2 -0.7l5 0.5l5 1.4l5 2.6l4.7 3.7l2.8 3.3l2.4 4.2l1.2 5l-67 0l0.7 -2.5l1.4 -2.5l3.8 -3.4l14.1 -6.6l13.4 -5z"/>
<path fill="#ff0200" d="M243.4 448.5l1.6 -0.9l5 0l35 7.3l17.5 2.4l12.5 2.6l15 -0.8l19 1.9l3.5 1.6l0.8 0.9l0 2.5l-3.3 3.2l-15 7l-7.5 1.1l-12.5 -0.3l-7.5 1.1l-12.5 4.2l-12.5 6.4l-7 2.3l-8 0.5l-10 -1.9l-5 0.3l-2.5 1.3l-2.1 2.3l-4.4 7.5l-2.6 2.5l-25.9 13.1l-8.6 9.4l-8.4 7.5l-3 5l-6.6 15l-2.9 7.5l-1.9 7.5l-33.2 0l2.1 -5l6 -10l4 -4.3l6.4 -5.7l6.1 -7l12.5 -9.6l6.2 -8.4l2.5 -2.5l3.8 -2.5l7.5 -3.6l2.5 -2.2l5.5 -6.7l10.2 -7.5l4.7 -5l3.2 -5l2.7 -7.5l5.6 -12.5l1.1 -5l-0.3 -7.5zM552.1 508.5l7.9 -0.1l5 1.8l20 9.7l5.6 3.6l4.4 3.7l5 6l3.5 5.3l7.3 15l1.9 7.5l-0.2 2.5l-2.1 5l-27.3 0l-5.6 -8l-5.6 -14.5l-6.9 -14.2l-2.5 -3.4l-9 -7.4l-3.8 -5l-1 -2.5l-0.1 -2.5l1.4 -1.5zM342.7 556l4.8 -1.9l2.5 -0.4l5 0.3l6.7 2l4 2.5l2.4 2.5l1.6 2.5l1.2 5l-45.1 0l1.6 -2.5l3.2 -2.5l11.9 -7.4z"/>
<path fill="#f40000" d="M257.7 458.5l4.8 -0.7l7.5 0.3l17.5 4.9l12.5 0.7l4.1 2.3l1 2.5l-1.2 2.5l-3.9 2.4l-10 2.7l-10.7 4.9l-6.8 1.7l-7.5 -0.2l-15 -3.6l-3.1 -2.9l-0.7 -2.5l0 -2.5l1.7 -5l2.1 -2.9l2.5 -2.2l5 -2.4zM573.8 528.5l1.2 -1.1l2.5 -0.5l5 1.5l5 3.6l5 4.8l4.5 6.7l1.7 5l0.3 5l-1.5 3.3l-2.5 1.6l-2.5 0.1l-5 -2.4l-2.5 -2.4l-10.5 -15.2l-2 -5l0.1 -2.5zM166.1 556l1.4 -1.3l2.5 -0.9l2.5 1.5l0.3 0.7l-0.9 2.5l-1.9 2l-2.5 0.6l-2.1 -2.6zM349.7 566l0.6 0l1.9 2.5l-4.3 0z"/>
</g>
<path fill="#fff" shape-rendering="crispEdges" d="M125 56l232.5 0l0 3l-11.5 0l0 6l-5 0l0 3l-4.5 0l0 10l-16.5 0l0 5l-4.5 0l0 4l-5.5 0l0 5l-5 0l0 13.5l-1 0l0 47.5l-5 0l0 14l-4.7 0l0 15.4l-4.3 0l0 14.6l-4 0l0 16l-2 0l0 6l-4 3l-10 1l-15 2l-15 1.5l-10 1l0 3.5l-10 0l0 4l-10 0l0 4l-5 0l0 3.5l-5 0l0 5l-6 0l0 6.5l-4 0l0 6l-4 0l0 7.5l-3.5 0l0 7.5l-4.5 0l0 5l-5.6 0l0 5.5l-4.8 0l0 5.9l-3.9 0l0 7.6l-4.9 0l0 5l-3.8 0l0 2l-10 0l-2 7l2 7l2 8l6 0l0 9l-5.5 0l0 18l5 0l0 15l-7.5 0l0 22l-5 0l0 38l2.5 0l0 15l-5 5l0 7.5l-6.5 0l0 5l-6 0z"/>
<rect x="289" y="92" width="16" height="13.5" fill="#0000e4" shape-rendering="crispEdges"/>
<rect x="283.2" y="78.5" width="12" height="18" fill="#00008c" shape-rendering="crispEdges"/>
<path class="g" d="M194.8 56V563M265.5 56V563M336.2 56V563M407 56V563M477.8 56V563M548.5 56V563M619.2 56V563M125 106.2H674M125 191H674M125 275.9H674M125 360.7H674M125 445.5H674M125 530.3H674"/>
<path class="c" d="M331 78.4C330.3 79 328.2 80.6 327 82C325.8 83.4 324.5 85.4 323.8 87C323 88.6 322.5 89.9 322.5 91.5C322.5 93.1 322.3 96.1 323.8 96.5C325.2 96.9 328.7 94.9 331 94C333.3 93.1 334.3 92.7 337.5 91C340.7 89.3 345.8 86.3 350 84C354.2 81.7 358.3 79.3 362.5 77C366.7 74.7 370.8 72.4 375 70C379.2 67.6 384.2 65 387.5 62.8C390.8 60.5 393.8 57.5 395 56.5M310 87.5C309.8 87.8 309.2 88.1 308.8 89.6C308.2 91.1 307.5 94.1 307 96.5C306.5 98.9 306 101.8 305.6 104C305.2 106.2 304.6 109 304.4 110M412 56C410.3 57.5 405.7 62.5 402 65C398.3 67.5 394.3 68.8 390 71C385.7 73.2 380.6 75.7 376 78C371.4 80.3 366.8 82.5 362.5 85C358.2 87.5 353.4 90.2 350 92.8C346.6 95.2 344.6 97.5 342.3 100C340 102.5 337.5 105.8 336 108C334.5 110.2 335.2 110 333.4 113C331.6 116 327.6 121.4 325.3 126C323 130.6 321.5 135.7 319.6 140.5C317.7 145.3 316 150.2 314 155C312 159.8 309.5 165 307.5 169.6C305.5 174.2 303.8 179.1 301.8 182.5C299.8 185.9 297.4 187.6 295.6 190C293.8 192.4 291.8 195.8 291 197M446 56C444 57.3 438.3 61.5 434 64C429.7 66.5 424.7 68.3 420 71C415.3 73.7 411 77.5 406 80C401 82.5 395.2 83.8 390 86C384.8 88.2 379.6 90.8 375 93C370.4 95.2 366.2 97 362.5 99C358.8 101 355.2 102.8 352.5 105C349.8 107.2 348.1 109.3 346 112C343.9 114.7 341.6 118.7 339.9 121C338.2 123.3 337.4 123.8 335.9 126C334.4 128.2 332.7 130.8 331 134C329.3 137.2 327.3 141.8 325.8 145.4C324.3 149.1 323.5 152.4 322.2 155.9C320.9 159.4 319.3 163.1 318.1 166.4C316.9 169.8 316.7 171.8 314.8 176C312.8 180.2 308.6 186.3 306.3 191.3C304 196.3 302.3 202.5 300.7 206C299.1 209.5 298.4 209.4 296.6 212.4C294.9 215.4 292.4 220.8 290.2 224C288 227.2 286.1 229.4 283.7 231.8C281.3 234.2 278.2 236.8 275.9 238.3C273.6 239.8 272.1 240.1 270 241C267.9 241.9 264.7 244.3 263 243.5C261.3 242.7 259.5 238.6 259.7 236.3C259.9 234.1 262.4 232.1 264 230C265.6 227.9 268.5 225 269.4 224M468 56C466 57.2 460 60.7 456 63C452 65.3 447.7 67.7 444 70C440.3 72.3 437.3 74 434 77C430.7 80 428 84.8 424 88C420 91.2 415.3 93.7 410 96C404.7 98.3 397.3 100.2 392 102C386.7 103.8 382.7 105 378 107C373.3 109 368.2 110.8 364 114C359.8 117.2 355.6 123.3 352.9 126C350.2 128.7 349.9 128 348 130C346.1 132 343.3 135.7 341.6 138.1C339.9 140.5 339.2 142.2 337.9 144.6C336.5 147 334.8 150 333.5 152.7C332.2 155.4 331.5 158 330.3 160.8C329.1 163.6 327.4 167.2 326.2 169.7C325 172.2 324.8 172.4 323.2 176C321.6 179.6 319 186.3 316.9 191.3C314.8 196.3 312.5 201.6 310.4 206C308.3 210.4 306.5 213.9 304.4 217.6C302.3 221.2 300 224.5 297.9 227.9C295.8 231.3 295 234.8 292 238C289 241.2 284 244.3 280 247C276 249.7 272 251.8 268 254C264 256.2 260 258.3 256 260C252 261.7 247.8 263.4 244 264.4C240.2 265.4 236.8 266.1 233 266C229.2 265.9 225 263 221 264C217 265 212.2 269.8 209 272C205.8 274.2 204.3 276.2 202 277C199.7 277.8 197.3 276.2 195 277C192.7 277.8 189.5 280.9 188 282C186.5 283.1 187.7 281.4 186 283.6C184.3 285.8 181.2 290.8 178 295C174.8 299.2 169.5 304.9 166.6 308.8C163.7 312.7 163.2 316.2 160.8 318.5C158.4 320.8 152.8 320.8 152 322.4C151.2 324 155.5 325.7 156 328C156.5 330.3 155.5 333.4 155 336C154.5 338.6 153.6 343.8 153 343.8C152.4 343.8 151.7 338.6 151.5 336C151.3 333.4 152.2 330.2 152 328C151.8 325.8 150.3 323.8 150 323M500 69C498 69.5 492 70.8 488 72C484 73.2 480.7 74.3 476 76C471.3 77.7 464.7 79.8 460 82C455.3 84.2 451.7 86.3 448 89C444.3 91.7 441.7 94.8 438 98C434.3 101.2 429.7 105.2 426 108C422.3 110.8 420.3 112.7 416 115C411.7 117.3 406 119.5 400 122C394 124.5 385.7 127.5 380 130C374.3 132.6 369.4 135.3 366 137.3C362.6 139.3 361.6 139.9 359.4 142.2C357.2 144.5 355.1 148.2 352.9 151C350.7 153.8 347.8 156.7 346.4 159.1C345 161.5 345.9 163.8 344.8 165.6C343.7 167.4 341.2 168 340 169.7C338.8 171.4 339.3 172.4 337.5 176C335.7 179.6 332.1 186.3 329.1 191.3C326.1 196.3 322.2 201.2 319.4 206C316.5 210.8 314.9 215.5 312 220C309.1 224.5 305.7 228.8 302 233C298.3 237.2 294 241.3 290 245C286 248.7 282 251.8 278 255C274 258.2 270 261.2 266 264C262 266.8 258.3 269.5 254 272C249.7 274.5 244.7 277.2 240 279C235.3 280.8 230.3 281.8 226 283C221.7 284.2 217.2 284.7 214 286C210.8 287.3 209.2 288.7 207 291C204.8 293.3 202.9 297 201 300C199.1 303 198.5 305.7 195.7 308.8C192.9 311.9 187.9 316.4 184 318.5C180.1 320.6 175 319.9 172.4 321.5C169.8 323.1 169.3 326.1 168.5 328.3C167.7 330.6 167.9 332.2 167.5 335C167.1 337.8 166.6 340.4 166 345C165.4 349.6 165 356.7 164 362.5C163 368.3 162.3 373.8 160 380C157.7 386.2 152.2 395 150 400C147.8 405 147 407.1 147 410C147 412.9 149.6 414.2 150 417.5C150.4 420.8 149.6 425.4 149.5 430C149.4 434.6 150.1 439.2 149.5 445C148.9 450.8 147.8 459.6 146 465C144.2 470.4 140.8 472.9 139 477.5C137.2 482.1 136.7 488.1 135 492.5C133.3 496.9 130.7 501.8 129 504C127.3 506.2 125.7 505.7 125 506M480 75C481.7 74.3 485.8 72.2 490 71C494.2 69.8 499.2 68.5 505 68C510.8 67.5 519.2 67.5 525 68C530.8 68.5 534.8 70.1 540 71C545.2 71.9 551.8 73 556 73.5C560.2 74 561 73.9 565 73.8C569 73.6 574.6 73.5 580 72.5C585.4 71.5 590.8 68.9 597.5 68C604.2 67.1 610.4 67.2 620 67C629.6 66.8 645.8 67.4 655 67C664.2 66.6 671.7 64.9 675 64.5M379 170C377.5 171 372.8 173.8 370 176C367.2 178.2 364.3 180.7 362 183C359.7 185.3 357.8 187.2 356 190C354.2 192.8 352 196.2 351 200C350 203.8 350.8 209.2 350 212.5C349.2 215.8 347.5 218.6 346 220C344.5 221.4 342.4 219.8 341 221C339.6 222.2 338.9 226.2 337.5 227.5C336.1 228.8 334.2 228.2 332.5 229C330.8 229.8 329.6 230.7 327.5 232.5C325.4 234.3 322.9 237.1 320 240C317.1 242.9 313.3 247.3 310 250C306.7 252.7 303 253.7 300 256C297 258.3 294.7 262.2 292 264C289.3 265.8 286.7 265.7 284 267C281.3 268.3 279 270.3 276 272C273 273.7 268.7 275 266 277C263.3 279 262.7 281.7 260 284C257.3 286.3 253.7 289 250 291C246.3 293 242.2 294.8 238 296C233.8 297.2 227.5 296.3 225 298C222.5 299.7 224.2 303.7 223 306C221.8 308.3 219.6 310.2 218 312C216.4 313.8 214.5 314.2 213.2 316.6C211.9 319 211.2 324.1 210.3 326.3C209.4 328.5 210.1 329 207.5 330C204.9 331 198.1 331.2 195 332.5C191.9 333.8 190.3 334.2 189 337.5C187.7 340.8 188.5 348.8 187 352.5C185.5 356.2 182.2 357.5 180 360C177.8 362.5 175.5 364.2 174 367.5C172.5 370.8 173.2 375.4 171 380C168.8 384.6 163.2 390.4 161 395C158.8 399.6 158.1 404.2 157.5 407.5C156.9 410.8 157.1 412.5 157.5 415C157.9 417.5 160 419.2 160 422.5C160 425.8 157.7 430.8 157.5 435C157.3 439.2 157.9 443.8 159 447.5C160.1 451.2 162.6 454.6 164 457.5C165.4 460.4 166.7 461.9 167.5 465C168.3 468.1 169.6 473.1 169 476C168.4 478.9 166.3 480.6 164 482.5C161.7 484.4 157.3 485 155 487.5C152.7 490 151.8 493.8 150 497.5C148.2 501.2 146.5 505.4 144 510C141.5 514.6 138.2 521.2 135 525C131.8 528.8 126.7 531.7 125 533M379 170C379.8 169.5 381.5 168.2 384 167C386.5 165.8 390 164 394 163C398 162 403.7 161.6 408 161C412.3 160.4 416 159.7 420 159.5C424 159.3 428.3 159.6 432 160C435.7 160.4 438.7 161 442 162C445.3 163 449 164.8 452 166C455 167.2 457.3 168 460 169C462.7 170 465.3 171.2 468 172C470.7 172.8 473.6 173.1 476 174C478.4 174.9 480.7 176 482.5 177.5C484.3 179 486.1 180.9 487 183C487.9 185.1 487.3 187.6 488 190C488.7 192.4 488.6 195.2 491 197.5C493.4 199.8 498.7 202.1 502.5 204C506.3 205.9 512.9 206.8 514 209C515.1 211.2 510.3 214.4 509 217.5C507.7 220.6 505.7 224.2 506 227.5C506.3 230.8 508.2 234.4 511 237.5C513.8 240.6 518.1 242.9 522.5 246C526.9 249.1 532.9 252.8 537.5 256C542.1 259.2 545.4 261.7 550 265C554.6 268.3 560 272.2 565 276C570 279.8 574.6 283.9 580 287.5C585.4 291.1 591.2 294.4 597.5 297.5C603.8 300.6 611.7 303.1 617.5 306C623.3 308.9 628.8 312.8 632.5 315C636.2 317.2 639.6 317.8 640 319C640.4 320.2 637.9 321.7 635 322.5C632.1 323.3 626.7 324.2 622.5 324C618.3 323.8 613.1 321.7 610 321C606.9 320.3 605.8 319.5 604 320C602.2 320.5 598.9 322.5 599.5 324C600.1 325.5 604.1 327.2 607.5 329C610.9 330.8 615.4 333.2 620 335C624.6 336.8 629.2 338.5 635 340C640.8 341.5 648.5 343.7 655 344C661.5 344.3 670.8 342.3 674 342M595 130C595 128.2 598.3 123.2 600 120C601.7 116.8 603.2 113.1 605 111C606.8 108.9 608.5 107.8 611 107.5C613.5 107.2 617.5 107.9 620 109C622.5 110.1 625.2 112.3 626 114C626.8 115.7 626.4 117.3 625 119C623.6 120.7 620.4 122.6 617.5 124C614.6 125.4 610.4 126.3 607.5 127.5C604.6 128.7 602.1 130.6 600 131C597.9 131.4 595 131.8 595 130zM674 171C672.5 169.8 668.2 165.7 665 164C661.8 162.3 659.2 161.3 655 161C650.8 160.7 644.2 161.3 640 162C635.8 162.7 632.3 163.7 630 165C627.7 166.3 626.2 167.5 626 170C625.8 172.5 627.5 177.1 629 180C630.5 182.9 633.3 185.2 635 187.5C636.7 189.8 638 191.9 639 194C640 196.1 640 198.1 641 200C642 201.9 642.7 205.1 645 205.5C647.3 205.9 651.7 204.1 655 202.5C658.3 200.9 661.8 197.9 665 196C668.2 194.1 672.5 191.8 674 191M581 241C581.6 238.2 579.9 233.1 581 230C582.1 226.9 585.3 225 587.5 222.5C589.7 220 592.9 217.5 594 215C595.1 212.5 595.1 209.3 594 207.5C592.9 205.7 589.4 205.2 587.5 204C585.6 202.8 584.8 201.1 582.5 200.5C580.2 199.9 576.1 199.8 574 200.5C571.9 201.2 570.2 203.4 570 205C569.8 206.6 572.9 208.8 572.5 210C572.1 211.2 569.4 210.8 567.5 212.5C565.6 214.2 563.5 218.1 561 220C558.5 221.9 555 222.3 552.5 224C550 225.7 546.6 228 546 230C545.4 232 547.1 234.5 549 236C550.9 237.5 554.8 238.3 557.5 239C560.2 239.7 562.8 239.1 565 240C567.2 240.9 568.9 243.3 571 244.5C573.1 245.7 575.8 247.6 577.5 247C579.2 246.4 580.4 243.8 581 241zM629.5 246C630.4 245.5 633.2 246.5 635 246C636.8 245.5 638.2 242.8 640 243C641.8 243.2 646 246.2 646 247.5C646 248.8 641.8 250.8 640 251C638.2 251.2 636.8 249.3 635 249C633.2 248.7 630.4 249.5 629.5 249C628.6 248.5 628.6 246.5 629.5 246zM490 252.5C490.7 251.1 492.9 249 495 249C497.1 249 499.9 251.2 502.5 252.5C505.1 253.8 510.1 255.8 510.5 257C510.9 258.2 507.6 259.3 505 260C502.4 260.7 497.3 261.4 495 261C492.7 260.6 491.8 258.9 491 257.5C490.2 256.1 489.3 253.9 490 252.5zM478.5 277C477.2 277 472.8 279.5 471 282.5C469.2 285.5 467.8 290.8 467.5 295C467.2 299.2 469.8 304.6 469 307.5C468.2 310.4 465.2 311.9 462.5 312.5C459.8 313.1 456.2 310.9 452.5 311C448.8 311.1 440.4 311.1 440 313C439.6 314.9 445.8 318.8 450 322.5C454.2 326.2 460.8 332.1 465 335C469.2 337.9 471.2 337.7 475 340C478.8 342.3 484.3 347 487.5 349C490.7 351 492.6 353.1 494 352C495.4 350.9 495.8 346.2 496 342.5C496.2 338.8 495.6 334.2 495 330C494.4 325.8 494.2 321.7 492.5 317.5C490.8 313.3 487.1 308.3 485 305C482.9 301.7 481 301.2 480 297.5C479 293.8 479.2 285.9 479 282.5C478.8 279.1 479.8 277 478.5 277zM226 403.5C223.7 404.9 218.3 404.8 215 406C211.7 407.2 207.8 409.3 206 411C204.2 412.7 204 414.5 204 416C204 417.5 204.8 420 206 420C207.2 420 209.3 417.8 211 416C212.7 414.2 213.5 411.6 216 409.5C218.5 407.4 222.4 405.1 226 403.5C229.6 401.9 233.5 401.6 237.5 400C241.5 398.4 245.8 396.1 250 394C254.2 391.9 257.5 389.8 262.5 387.5C267.5 385.2 275.8 382.1 280 380C284.2 377.9 286.8 376.5 287.5 375C288.2 373.5 286.5 371.8 284 371C281.5 370.2 275.8 370 272.5 370C269.2 370 266.5 370 264 371C261.5 372 260.7 375 257.5 376C254.3 377 248.9 376.8 245 377C241.1 377.2 236.5 376.1 234 377C231.5 377.9 230.8 379.1 230 382.5C229.2 385.9 229.7 394 229 397.5C228.3 401 228.3 402.1 226 403.5zM171.5 460C171.5 458.5 172.5 453.7 173 452C173.5 450.3 174.2 449 174.5 450C174.8 451 174.8 456.2 174.5 458C174.2 459.8 173.5 460.7 173 461C172.5 461.3 171.5 461.5 171.5 460zM172.5 469C172.7 468 173.7 467.3 174 468C174.3 468.7 174.7 472 174.5 473C174.3 474 173.3 474.7 173 474C172.7 473.3 172.3 470 172.5 469zM142.5 562.5C144.2 561.2 148.8 558.3 152.5 555C156.2 551.7 160.8 546.7 165 542.5C169.2 538.3 173.3 534.2 177.5 530C181.7 525.8 185.8 521.2 190 517.5C194.2 513.8 198.3 511.1 202.5 507.5C206.7 503.9 211.2 499.3 215 496C218.8 492.7 222.6 490.2 225 487.5C227.4 484.8 229 482.5 229.5 480C230 477.5 228.6 475 228 472.5C227.4 470 227.3 468.3 226 465C224.7 461.7 221.4 455.8 220 452.5C218.6 449.2 216.5 447.8 217.5 445.5C218.5 443.2 223.5 440.7 226 439C228.5 437.3 230.3 436 232.5 435.5C234.7 435 236.1 435.2 239 436C241.9 436.8 245.7 438.2 250 440C254.3 441.8 259.6 445.2 265 447C270.4 448.8 276.7 449.4 282.5 450.5C288.3 451.6 294.6 452.8 300 453.5C305.4 454.2 309.2 454.8 315 455C320.8 455.2 327.9 455.2 335 455C342.1 454.8 352.3 453.2 357.5 453.5C362.7 453.8 364 455.8 366 457C368 458.2 369.5 459.2 369.5 461C369.5 462.8 368.4 465.2 366 467.5C363.6 469.8 358.9 472.7 355 474.5C351.1 476.3 346.2 477.4 342.5 478.5C338.8 479.6 336.2 480.5 332.5 481C328.8 481.5 324.6 481.3 320 481.5C315.4 481.7 309.2 481.2 305 482C300.8 482.8 298.3 484.2 295 486C291.7 487.8 288.3 490.8 285 492.5C281.7 494.2 277.8 495.2 275 496C272.2 496.8 270.8 497.1 268.5 497C266.2 496.9 263.2 496.2 261 495.5C258.8 494.8 256.8 492.8 255 493C253.2 493.2 251.2 495 250 497C248.8 499 249.2 502.9 248 505C246.8 507.1 245.5 507.9 242.5 509.5C239.5 511.1 233.8 512.8 230 514.5C226.2 516.2 223.8 517.4 220 520C216.2 522.6 210.7 526.7 207.5 530C204.3 533.3 203.1 536.7 201 540C198.9 543.3 196.7 546.2 195 550C193.3 553.8 191.7 560.4 191 562.5M345 402.5C345.2 401.9 346.8 401.2 348 401C349.2 400.8 351.8 401 352.5 401.5C353.2 402 352.9 403.5 352 404C351.1 404.5 348.2 404.8 347 404.5C345.8 404.2 344.8 403.1 345 402.5zM317.5 563C319.6 562.1 325.8 559.2 330 557.5C334.2 555.8 338.8 553.8 342.5 552.5C346.2 551.2 349.2 550.2 352.5 550C355.8 549.8 359.4 550.2 362.5 551C365.6 551.8 368.5 553.1 371 555C373.5 556.9 376.4 561.2 377.5 562.5M571 563C570.9 562.1 570.8 560.1 570.5 557.5C570.2 554.9 569.9 550.8 569 547.5C568.1 544.2 566.9 540.4 565 537.5C563.1 534.6 560.2 532.2 557.5 530C554.8 527.8 551.2 526.1 549 524C546.8 521.9 545.6 519.7 544 517.5C542.4 515.3 540 513.1 539.5 511C539 508.9 539.7 506.3 541 505C542.3 503.7 544.3 503.2 547.5 503C550.7 502.8 555.8 503 560 504C564.2 505 568.3 507.2 572.5 509C576.7 510.8 580.8 512.2 585 514.5C589.2 516.8 594.2 519.5 597.5 522.5C600.8 525.5 602.5 528.8 605 532.5C607.5 536.2 610 540.8 612.5 545C615 549.2 618 554.5 620 557.5C622 560.5 623.8 562.1 624.5 563M477.5 563C476.9 562.3 474.8 560.8 474 559C473.2 557.2 472.2 555.2 472.5 552.5C472.8 549.8 474.6 546.7 476 542.5C477.4 538.3 479.6 532.9 481 527.5C482.4 522.1 483.8 516.2 484.5 510C485.2 503.8 485.6 496.7 485.5 490C485.4 483.3 485.1 475.4 484 470C482.9 464.6 480.9 462.1 479 457.5C477.1 452.9 475.2 447.5 472.5 442.5C469.8 437.5 465.4 432.1 462.5 427.5C459.6 422.9 457.5 419.2 455 415C452.5 410.8 450 406.7 447.5 402.5C445 398.3 441.8 393.8 440 390C438.2 386.2 437 383.4 437 380C437 376.6 438.5 372.2 440 369.5C441.5 366.8 443.3 364 446 364C448.7 364 453.2 367.2 456 369.5C458.8 371.8 460.2 374.1 462.5 377.5C464.8 380.9 467.1 386.7 470 390C472.9 393.3 476.7 395.2 480 397.5C483.3 399.8 486.2 402.1 490 404C493.8 405.9 498.8 407.8 502.5 409C506.2 410.2 510.4 409.3 512.5 411C514.6 412.7 513.6 417.1 515 419C516.4 420.9 518.1 422 521 422.5C523.9 423 528.5 422.4 532.5 422C536.5 421.6 541.4 420 545 420C548.6 420 551.9 420.3 554 422C556.1 423.7 557.5 427 557.5 430C557.5 433 555.2 437.1 554 440C552.8 442.9 550.2 445 550 447.5C549.8 450 552.9 452.1 552.5 455C552.1 457.9 550.4 461.8 547.5 465C544.6 468.2 539.2 471.3 535 474C530.8 476.7 526.2 478.3 522.5 481C518.8 483.7 515.4 486.8 512.5 490C509.6 493.2 506.9 496.2 505 500C503.1 503.8 501.7 507.9 501 512.5C500.3 517.1 499.9 522.9 501 527.5C502.1 532.1 505.6 536.2 507.5 540C509.4 543.8 511.4 547.1 512.5 550C513.6 552.9 514.3 555.3 514 557.5C513.7 559.7 511.1 562.1 510.5 563M674 400C672.5 399.3 668.6 397 665 396C661.4 395 656.2 394.1 652.5 394C648.8 393.9 645.6 394.1 642.5 395.5C639.4 396.9 636.1 399.9 634 402.5C631.9 405.1 630 407.7 630 411C630 414.3 631.9 419.3 634 422.5C636.1 425.7 639.4 427.5 642.5 430C645.6 432.5 649.6 434.3 652.5 437.5C655.4 440.7 657.8 446.1 660 449C662.2 451.9 663.7 453.6 666 455C668.3 456.4 672.7 457.1 674 457.5"/>
<g class="lb">
<rect x="549" y="67.5" width="14" height="12"/><text x="556" y="78.7" text-anchor="middle">12</text>
<rect x="408" y="153.5" width="24" height="12"/><text x="420" y="164.7" text-anchor="middle">12.5</text>
<rect x="283.5" y="185" width="24" height="12"/><text x="295.5" y="196.2" text-anchor="middle">10.5</text>
<rect x="256" y="237.5" width="14" height="12"/><text x="263" y="248.7" text-anchor="middle">11</text>
<rect x="209" y="258" width="24" height="12"/><text x="221" y="269.2" text-anchor="middle">11.5</text>
<rect x="570.5" y="241" width="14" height="12"/><text x="577.5" y="252.2" text-anchor="middle">12</text>
<rect x="466.5" y="271" width="24" height="12"/><text x="478.5" y="282.2" text-anchor="middle">12.5</text>
<rect x="434" y="358" width="24" height="12"/><text x="446" y="369.2" text-anchor="middle">12.5</text>
<rect x="214" y="397.5" width="24" height="12"/><text x="226" y="408.7" text-anchor="middle">12.5</text>
<rect x="225.5" y="429.5" width="14" height="12"/><text x="232.5" y="440.7" text-anchor="middle">13</text>
<rect x="261.5" y="491" width="14" height="12"/><text x="268.5" y="502.2" text-anchor="middle">13</text>
</g>
<path class="k" d="M125 146l13 4l12 2l15 -1l1 -3l-4 -3l8 -9l7 5l7 2l6 -4l5 -4l10 -4l10 -3l7 -5l8 -4l8 -2.5l7 0.5l7 -1l8 3l10 2l8 4l6 6l4 7l2 9l-1 6l-5 3.5l2 6l6.5 3.5M284 56l-1.5 9l-1.5 7l-1.5 6l0 10l1.5 7l3 3.5l4.5 1.5l3.5 -3l4 -4l4 -4l8 -5l8 -5l9 -6l10 -7l10.5 -6.5l4.5 -3.5M290.8 56l0.2 7l0.5 7l2 5.5l2.5 4.5l2 5l2 4M317.8 77l-6.8 -3l-1.5 -3l1 -3l2 -3l4.5 -2.2l4.5 -1.6l3 -2.2l3 -2.5l1.5 4l1.5 -3.5M288.5 100l-2.5 2.5l-3.5 3.5l-2.5 3l1.8 3l3 4l3 -3l2.2 -1.5l3 3l3 1.5l1.5 -2.2l3 -0.8l0.7 4.5l-0.7 6l1.5 7.5l0.5 7l-2.5 12l-5 10l-2 7l-4.2 8l-1.8 10l-2 12.5l-1.2 15l-3.8 7.5l-10 2l-15 1.8l-15 1.2l-15 2l-11.2 2.5l-1 1.5l-18.8 10.7l-1.6 4.3l-5.8 6.8l-7.8 14.6l-9.8 11.6l-9.6 9.7l-5.8 9.7l-3.6 5.6l-5.7 2l-2 6.7l2 7.8l2.9 7.8l-4.9 6.7l2.9 6.8l2 11.7l0 9.7l-2.9 11.7l-3.3 5.1l-6 15l1 10l-2 7.5l2 17.5l3.5 7.5l-3.5 10l-8.5 12.5l-2.5 4M125 404l11 -1M213.8 227l1 -6.2l-7.8 -2.9l-5 -3.9l-0.3 -7.8l3.3 -4.8l5.9 -3l-2.9 -3.8l-6 -2.9l-7.6 -0.4l-4.9 -2.6l-7.8 6.8l-4.8 7.8l1.9 7.7l6.8 7.8l1 7.8l-2.9 4.9l-9.7 3.8l-5.8 4.9l-3 9.7l2 1.9l6.8 -1.9l5.8 -6.8l6.8 -1.4l4.9 3.3l-1 3l-3.9 0l0 3.8l4.9 -4.8M213.8 227.6l-6.8 0.9l-15.5 6.8l2.5 6.4l18.8 -10.8l1 -3.3M184.7 257.7l-4.9 -4.9l-12.6 5.8l-6.2 4.9l-1.6 17.5l5.8 -4l8.8 -5.7l7.7 -9.7l3 -3.9M183.7 257.7l-6.8 7.7l-13.6 9.7"/>
</g>
<rect x="124" y="55" width="551" height="509" fill="none" stroke="#000" stroke-width="2" shape-rendering="crispEdges"/>
<path class="t" d="M124.5 565v3M194.8 565v3M265.5 565v3M336.2 565v3M407 565v3M477.8 565v3M548.5 565v3M619.2 565v3M123 106.2h-3M123 191h-3M123 275.9h-3M123 360.7h-3M123 445.5h-3M123 530.3h-3"/>
<g font-size="12px">
<text x="124.5" y="580" text-anchor="middle">28.5</text>
<text x="194.8" y="580" text-anchor="middle">29</text>
<text x="265.5" y="580" text-anchor="middle">29.5</text>
<text x="336.2" y="580" text-anchor="middle">30</text>
<text x="407" y="580" text-anchor="middle">30.5</text>
<text x="477.8" y="580" text-anchor="middle">31</text>
<text x="548.5" y="580" text-anchor="middle">31.5</text>
<text x="619.2" y="580" text-anchor="middle">32</text>
<text x="117.3" y="110.5" text-anchor="end">45.5</text>
<text x="117.3" y="195.3" text-anchor="end">45</text>
<text x="117.3" y="280.2" text-anchor="end">44.5</text>
<text x="117.3" y="365" text-anchor="end">44</text>
<text x="117.3" y="449.8" text-anchor="end">43.5</text>
<text x="117.3" y="534.6" text-anchor="end">43</text>
</g>
<g shape-rendering="crispEdges">
<rect x="708" y="551" width="16" height="6.3" fill="#000086"/>
<rect x="708" y="545" width="16" height="6.3" fill="#000092"/>
<rect x="708" y="539.1" width="16" height="6.3" fill="#00009e"/>
<rect x="708" y="533.1" width="16" height="6.3" fill="#0000ab"/>
<rect x="708" y="527.1" width="16" height="6.3" fill="#0000b7"/>
<rect x="708" y="521.1" width="16" height="6.3" fill="#0000c3"/>
<rect x="708" y="515.2" width="16" height="6.3" fill="#0000cf"/>
<rect x="708" y="509.2" width="16" height="6.3" fill="#0000dc"/>
<rect x="708" y="503.2" width="16" height="6.3" fill="#0000e8"/>
<rect x="708" y="497.2" width="16" height="6.3" fill="#0000f4"/>
<rect x="708" y="491.3" width="16" height="6.3" fill="#0002ff"/>
<rect x="708" y="485.3" width="16" height="6.3" fill="#000eff"/>
<rect x="708" y="479.3" width="16" height="6.3" fill="#001aff"/>
<rect x="708" y="473.3" width="16" height="6.3" fill="#0026ff"/>
<rect x="708" y="467.4" width="16" height="6.3" fill="#0033ff"/>
<rect x="708" y="461.4" width="16" height="6.3" fill="#003fff"/>
<rect x="708" y="455.4" width="16" height="6.3" fill="#004bff"/>
<rect x="708" y="449.4" width="16" height="6.3" fill="#0058ff"/>
<rect x="708" y="443.5" width="16" height="6.3" fill="#0064ff"/>
<rect x="708" y="437.5" width="16" height="6.3" fill="#0070ff"/>
<rect x="708" y="431.5" width="16" height="6.3" fill="#007cff"/>
<rect x="708" y="425.5" width="16" height="6.3" fill="#0089ff"/>
<rect x="708" y="419.6" width="16" height="6.3" fill="#0095ff"/>
<rect x="708" y="413.6" width="16" height="6.3" fill="#00a1ff"/>
<rect x="708" y="407.6" width="16" height="6.3" fill="#00aeff"/>
<rect x="708" y="401.6" width="16" height="6.3" fill="#00baff"/>
<rect x="708" y="395.7" width="16" height="6.3" fill="#00c6ff"/>
<rect x="708" y="389.7" width="16" height="6.3" fill="#00d2ff"/>
<rect x="708" y="383.7" width="16" height="6.3" fill="#00dfff"/>
<rect x="708" y="377.7" width="16" height="6.3" fill="#00ebff"/>
<rect x="708" y="371.7" width="16" height="6.3" fill="#00f7ff"/>
<rect x="708" y="365.8" width="16" height="6.3" fill="#05fffa"/>
<rect x="708" y="359.8" width="16" height="6.3" fill="#11ffee"/>
<rect x="708" y="353.8" width="16" height="6.3" fill="#1dffe2"/>
<rect x="708" y="347.8" width="16" height="6.3" fill="#29ffd6"/>
<rect x="708" y="341.9" width="16" height="6.3" fill="#36ffc9"/>
<rect x="708" y="335.9" width="16" height="6.3" fill="#42ffbd"/>
<rect x="708" y="329.9" width="16" height="6.3" fill="#4effb1"/>
<rect x="708" y="323.9" width="16" height="6.3" fill="#5bffa4"/>
<rect x="708" y="318" width="16" height="6.3" fill="#67ff98"/>
<rect x="708" y="312" width="16" height="6.3" fill="#73ff8c"/>
<rect x="708" y="306" width="16" height="6.3" fill="#80ff80"/>
<rect x="708" y="300" width="16" height="6.3" fill="#8cff73"/>
<rect x="708" y="294.1" width="16" height="6.3" fill="#98ff67"/>
<rect x="708" y="288.1" width="16" height="6.3" fill="#a4ff5b"/>
<rect x="708" y="282.1" width="16" height="6.3" fill="#b1ff4e"/>
<rect x="708" y="276.1" width="16" height="6.3" fill="#bdff42"/>
<rect x="708" y="270.2" width="16" height="6.3" fill="#c9ff36"/>
<rect x="708" y="264.2" width="16" height="6.3" fill="#d6ff29"/>
<rect x="708" y="258.2" width="16" height="6.3" fill="#e2ff1d"/>
<rect x="708" y="252.2" width="16" height="6.3" fill="#eeff11"/>
<rect x="708" y="246.3" width="16" height="6.3" fill="#faff05"/>
<rect x="708" y="240.3" width="16" height="6.3" fill="#fff700"/>
<rect x="708" y="234.3" width="16" height="6.3" fill="#ffeb00"/>
<rect x="708" y="228.3" width="16" height="6.3" fill="#ffdf00"/>
<rect x="708" y="222.3" width="16" height="6.3" fill="#ffd200"/>
<rect x="708" y="216.4" width="16" height="6.3" fill="#ffc600"/>
<rect x="708" y="210.4" width="16" height="6.3" fill="#ffba00"/>
<rect x="708" y="204.4" width="16" height="6.3" fill="#ffae00"/>
<rect x="708" y="198.4" width="16" height="6.3" fill="#ffa100"/>
<rect x="708" y="192.5" width="16" height="6.3" fill="#ff9500"/>
<rect x="708" y="186.5" width="16" height="6.3" fill="#ff8900"/>
<rect x="708" y="180.5" width="16" height="6.3" fill="#ff7c00"/>
<rect x="708" y="174.5" width="16" height="6.3" fill="#ff7000"/>
<rect x="708" y="168.6" width="16" height="6.3" fill="#ff6400"/>
<rect x="708" y="162.6" width="16" height="6.3" fill="#ff5800"/>
<rect x="708" y="156.6" width="16" height="6.3" fill="#ff4b00"/>
<rect x="708" y="150.6" width="16" height="6.3" fill="#ff3f00"/>
<rect x="708" y="144.7" width="16" height="6.3" fill="#ff3300"/>
<rect x="708" y="138.7" width="16" height="6.3" fill="#ff2600"/>
<rect x="708" y="132.7" width="16" height="6.3" fill="#ff1a00"/>
<rect x="708" y="126.7" width="16" height="6.3" fill="#ff0e00"/>
<rect x="708" y="120.8" width="16" height="6.3" fill="#ff0200"/>
<rect x="708" y="114.8" width="16" height="6.3" fill="#f40000"/>
<rect x="708" y="108.8" width="16" height="6.3" fill="#e80000"/>
<rect x="708" y="102.8" width="16" height="6.3" fill="#dc0000"/>
<rect x="708" y="96.9" width="16" height="6.3" fill="#cf0000"/>
<rect x="708" y="90.9" width="16" height="6.3" fill="#c30000"/>
<rect x="708" y="84.9" width="16" height="6.3" fill="#b70000"/>
<rect x="708" y="78.9" width="16" height="6.3" fill="#ab0000"/>
<rect x="708" y="73" width="16" height="6.3" fill="#9e0000"/>
<rect x="708" y="67" width="16" height="6.3" fill="#920000"/>
<rect x="708" y="61" width="16" height="6.3" fill="#860000"/>
</g>
<g font-size="14px" letter-spacing="0.5">
<text x="735.5" y="74">13.6</text>
<text x="735.5" y="190">12.5</text>
<text x="735.5" y="311.5">11.4</text>
<text x="735.5" y="434">10.4</text>
<text x="735.5" y="556">9.31</text>
</g>
<g font-size="20.5px" transform="translate(0 42) scale(1 1.18)">
<text x="23.6" y="0" textLength="139.4" lengthAdjust="spacing">Temperature</text>
<text x="178" y="0" textLength="105" lengthAdjust="spacing">(Celsius).</text>
<text x="298" y="0" textLength="47.5" lengthAdjust="spacing">Date</text>
<text x="362" y="0" textLength="134" lengthAdjust="spacing">2020.12.10.</text>
<text x="512" y="0" textLength="51" lengthAdjust="spacing">Time</text>
<text x="578" y="0" textLength="139.5" lengthAdjust="spacing">00(h):00(m)</text>
<text x="734" y="0" textLength="43.5" lengthAdjust="spacingAndGlyphs">GMT</text>
</g>
<g font-size="19.5px" stroke="#000" stroke-width="0.35">
<text x="323.5" y="605.5" textLength="86" lengthAdjust="spacing">Langitude</text>
<text x="421.5" y="605.5" textLength="53.5" lengthAdjust="spacing">(East)</text>
<g transform="translate(82 382.8) rotate(-90)" font-size="21px"><text x="0" y="0" textLength="70" lengthAdjust="spacingAndGlyphs">Latitude</text><text x="81.6" y="0" textLength="63.4" lengthAdjust="spacingAndGlyphs">(North)</text></g>
</g>
<g font-size="19px" fill="#333" style="fill:#3a3a3a">
<text style="fill:#555" x="146" y="109.7" textLength="12" lengthAdjust="spacingAndGlyphs">Z</text>
<text style="fill:#555" x="175" y="109.7" textLength="14" lengthAdjust="spacingAndGlyphs">=</text>
<text style="fill:#555" x="207" y="109.7" textLength="32" lengthAdjust="spacingAndGlyphs">2.5</text>
<text style="fill:#555" x="256" y="109.7" textLength="18" lengthAdjust="spacingAndGlyphs">m</text>
</g>
</svg></body></html>
